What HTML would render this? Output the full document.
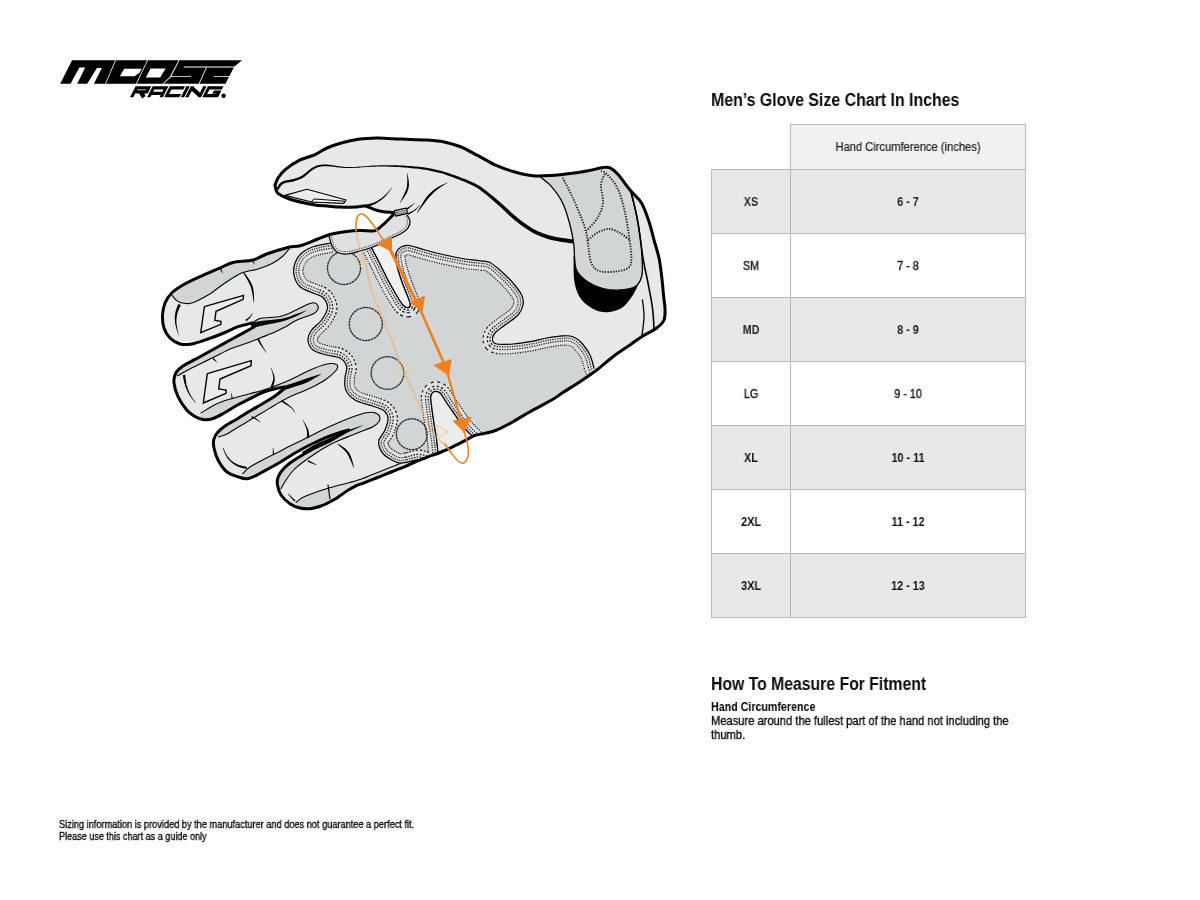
<!DOCTYPE html>
<html lang="en">
<head>
<meta charset="utf-8">
<title>Men's Glove Size Chart</title>
<style>
html,body{margin:0;padding:0;background:#fff;}
body{width:1200px;height:900px;position:relative;overflow:hidden;font-family:"Liberation Sans",sans-serif;color:#000;}
.t{position:absolute;white-space:nowrap;transform-origin:0 0;line-height:1;will-change:transform;}
.h{font-size:17.6px;font-weight:700;color:#0a0a0a;}
#title{left:711px;top:92.3px;transform:scaleX(.903);}
#how{left:711px;top:676.3px;transform:scaleX(.896);}
#hc{left:711px;top:700.5px;font-size:12.3px;font-weight:700;transform:scaleX(.868);}
#m1{left:711px;top:714.5px;font-size:12.3px;transform:scaleX(.907);-webkit-text-stroke:.3px #000;}
#m2{left:711px;top:728.5px;font-size:12.3px;transform:scaleX(.907);-webkit-text-stroke:.3px #000;}
#f1{left:59px;top:820.2px;font-size:10.4px;transform:scaleX(.886);-webkit-text-stroke:.3px #000;}
#f2{left:59px;top:832.2px;font-size:10.4px;transform:scaleX(.872);-webkit-text-stroke:.3px #000;}
#tbl{position:absolute;left:711px;top:124px;width:315px;height:494px;}
.cell{position:absolute;box-sizing:border-box;border:1px solid #b9b9b9;}
.cell span{will-change:transform;position:absolute;left:0;right:0;top:50%;text-align:center;font-size:12px;line-height:14px;margin-top:-7px;transform:scaleX(.9);}
.g{background:#e8e8e8;}
.w{background:#fff;}
.m span{font-weight:400 !important;-webkit-text-stroke:.4px #222;color:#222 !important;}
.s span{color:#262626 !important;}
.c1{left:0;width:80px;}
.c2{left:79px;width:236px;}
.c1 span,.c2 span{font-weight:700;color:#111;}
#hd{left:79px;top:0;width:236px;height:46px;background:#f1f1f1;}
#hd span{font-weight:400;color:#1a1a1a;transform:scaleX(.93);-webkit-text-stroke:.2px #222;}
#glove,#logo{position:absolute;left:0;top:0;}
</style>
</head>
<body>
<svg id="logo" width="1200" height="120" viewBox="0 0 1200 120">
<g fill="#000">
<path d="M72.1 60.2L242 60.2L234.6 66.6L233.4 68.2L225.5 83.8L60.2 83.8Z"/>
</g>
<g fill="#fff">
<path d="M70.4 84L77.1 84L85.2 67.5L79.4 67.5Z"/>
<path d="M87.1 84L93.8 84L101.9 68L96.9 68Z"/>
<path d="M115.3 60L116.1 60L105.8 84L105 84Z"/>
<path d="M124.2 68.7L141.7 68.7L139.6 72.6L134.6 76.3L119.9 76.3Z"/>
<path d="M147.3 60L148.1 60L136.6 84L135.8 84Z"/>
<path d="M150.6 68.5L165.6 68.5L160.2 77.5L145.8 77.5Z"/>
<path d="M178.8 60L179.7 60L170.9 77L163.6 84L162.5 84L170 76.6Z"/>
<path d="M184 66.6L235.2 66.6L234.6 67.4L183.6 67.4Z"/>
<path d="M171 76.2L191.2 76.2L190.8 77L170.6 77Z"/>
<path d="M206 67.4L206.9 67.4L199.4 84L198.5 84Z"/>
<path d="M214 76.2L230.2 76.2L229.8 77L213.6 77Z"/>
</g>
<g transform="translate(135.6 86.2) skewX(-27)" fill="none" stroke="#000" stroke-width="3.3" stroke-linejoin="miter" stroke-linecap="butt">
<path d="M1.65 11V1.65H14.1V5.7H1.65M8 5.7L13.9 11"/>
<path transform="translate(17.1 0)" d="M1.65 11V1.65H14.1V11M1.65 7.1H14.1"/>
<path transform="translate(34.2 0)" d="M15.2 1.65H1.65V9.35H15.2"/>
<path transform="translate(50.8 0)" d="M1.65 0V11"/>
<path transform="translate(55.2 0)" d="M1.65 11V0M1.65 1.6L14.1 9.4M14.1 0V11"/>
<path transform="translate(72.3 0)" d="M15.6 1.65H1.65V9.35H14.1V5.9H8.2"/>
</g>
<circle cx="223.6" cy="95.7" r="2.2" fill="#000"/>

</svg>
<svg id="glove" width="1200" height="900" viewBox="0 0 1200 900">
<g stroke-linejoin="round" stroke-linecap="round">
<path d="M275 185C275.6 183.8 276.5 180.1 278.3 177.5C280.1 174.9 282.5 172 285.8 169.2C289.1 166.4 293.4 163.2 298.3 160.8C303.2 158.4 310.2 156.7 315 154.6C319.8 152.5 322.3 150 327 148C331.7 146 337.5 144 343 142.5C348.5 141 354.3 139.8 360 139C365.7 138.2 371.5 138.1 377 138C382.5 137.9 387.5 138.4 393 138.7C398.5 138.9 404.3 139.3 410 139.5C415.7 139.7 421.5 139.6 427 140C432.5 140.4 437.5 140.6 443 141.7C448.5 142.8 454.2 144.2 460 146.5C465.8 148.8 471.9 152.5 478 155.7C484.1 158.9 490.5 163 496.7 165.7C502.9 168.4 508.9 170.3 515 172C521 173.7 526.9 175.2 533 175.8C539.1 176.4 545.5 175.9 551.7 175.5C557.9 175.1 564 174.4 570 173.6C576 172.8 582.5 171.7 588 170.7C593.5 169.7 599.3 168.1 603 167.6C606.7 167.1 607.5 166.7 610 167.8C612.5 168.9 614.3 170.2 617.7 174C621.1 177.8 626.5 185.7 630.5 190.5C634.5 195.3 638.4 197.8 641.5 203C644.6 208.2 646.9 215.5 649 221.7C651.1 227.9 652.3 233.9 654 240C655.7 246.1 657.7 251.9 659 258C660.3 264.1 661 270.5 661.7 276.7C662.5 282.9 663 289.7 663.5 295C664 300.3 664.9 304.1 665 308.3C665.1 312.5 665.4 316.7 664 320C662.6 323.3 660.4 325.2 656.7 328C653 330.8 646.2 333.9 641.7 336.7C637.2 339.5 634.8 341.7 630 345C625.2 348.3 618.5 352.5 613 356.7C607.5 360.9 602.2 365.8 596.7 370C591.2 374.2 585.6 377.9 580 381.7C574.4 385.4 567.7 389.4 563 392.5C558.3 395.6 557.2 396.8 551.7 400C546.2 403.2 536.5 408.1 530 411.7C523.5 415.3 518.5 418.6 513 421.7C507.4 424.8 501.4 428.1 496.7 430C492 431.9 488.7 432.4 485 433.3C481.3 434.2 477.6 434.4 474.3 435.6C471 436.8 468.8 438.8 465 440.7C461.2 442.6 455.9 445.3 451.7 447.3C447.5 449.3 443.3 451.1 440 452.5C436.7 453.9 434.5 454.4 431.7 455.4C428.9 456.4 426.1 457.6 423.3 458.7C420.5 459.8 417.8 460.8 415 462C412.2 463.2 409.5 464.6 406.7 465.8C403.9 467 401.1 468.1 398.3 469.2C395.5 470.3 392.8 471.4 390 472.5C387.2 473.6 384.5 474.7 381.7 475.8C378.9 476.9 376.1 478.1 373.3 479.2C370.5 480.3 367.8 481.5 365 482.5C362.2 483.5 358.1 484.9 356.7 485.4C355.3 486.2 351.1 488.3 348.3 490C345.5 491.7 342.7 494 340 495.8C337.3 497.6 335.2 499.1 332 500.8C328.8 502.5 324.7 504.7 321 506C317.3 507.3 313.5 508.4 310 508.7C306.5 509 303.3 508.8 300 508C296.7 507.2 293.2 505.9 290 503.7C286.8 501.5 283.1 498.1 281 495C278.9 491.9 278 487.9 277.5 485C277 482.1 277.2 480 278 477.5C278.8 475 280.5 472.4 282.5 470C284.5 467.6 286.7 465.5 290 463C293.3 460.5 298.3 457.5 302.5 455C306.7 452.5 310.4 450.3 315 448C319.6 445.7 327.5 442.2 330 441L348.7 430L340 432.5C337.9 433.2 331.7 435.3 327.5 437C323.3 438.7 319.2 440.6 315 442.5C310.8 444.4 306.7 446.4 302.5 448.7C298.3 450.9 294.2 453.5 290 456C285.8 458.5 281.7 461.3 277.5 463.7C273.3 466.1 268.8 468.6 265 470.6C261.2 472.7 257.9 474.6 255 476C252.1 477.4 250 478.4 247.5 478.7C245 478.9 243.5 478.7 240 477.5C236.5 476.3 230.4 474.6 226.7 471.7C223 468.8 220.1 463.9 218 460C215.9 456.1 214.7 451.3 214 448C213.3 444.7 213.1 442.6 213.7 440C214.3 437.4 215.6 434.8 217.5 432.5C219.4 430.2 221.7 428.3 225 426C228.3 423.7 233.3 421.2 237.5 418.7C241.7 416.2 245.8 413.5 250 411C254.2 408.5 258.3 406.2 262.5 403.7C266.7 401.2 271.2 398.6 275 396C278.8 393.4 283.3 389.3 285 388L285 387C283.3 387.3 278.8 387.8 275 388.7C271.2 389.6 266.7 390.8 262.5 392.5C258.3 394.2 254.2 396.6 250 398.7C245.8 400.8 241.7 402.7 237.5 405C233.3 407.3 229.2 410.2 225 412.5C220.8 414.8 216.2 417.5 212.5 418.7C208.8 419.9 205.9 419.9 203 419.5C200.1 419.1 197.7 418.1 195 416.5C192.3 414.9 189.5 413.3 186.7 410C183.9 406.7 180.1 401.2 178 396.7C175.9 392.2 174.4 386.9 174 383C173.6 379.1 174.3 375.8 175.8 373C177.3 370.2 179 368.7 183 366C187 363.3 194.4 359.8 200 356.7C205.6 353.6 211.2 350.5 216.7 347.5C222.2 344.5 226.8 341.9 233 338.5C239.2 335.1 250.5 328.9 254 327L252 323C249.7 323.6 242.5 325.1 238 326.7C233.5 328.3 230 330.4 225 332.5C220 334.6 213.6 337.1 208 339C202.4 340.9 196.4 343.2 191.7 344C187 344.8 183.6 345 180 344C176.4 343 172.7 340.7 170 338C167.3 335.3 165.2 331.8 164 328C162.8 324.2 162.3 319.2 162.5 315C162.7 310.8 163.5 306.7 165 303C166.5 299.3 168.7 296 171.7 293C174.7 290 178.3 287.7 183 285C187.7 282.3 193.8 279.5 200 276.7C206.2 273.9 214.5 270.4 220 268C225.5 265.6 227.5 263.8 233 262.5C238.5 261.2 247.4 261.4 253 260C258.6 258.6 260.9 256.1 266.7 254C272.5 251.9 282.4 248.9 288 247.5C293.6 246.1 295.2 247.1 300 245.8C304.8 244.5 311.7 241.4 316.7 239.5C321.7 237.6 325 235.8 330 234.5C335 233.2 341.7 232.2 346.7 231.5C351.7 230.8 355.6 230.6 360 230.5C364.4 230.4 370 231.2 373 231C376 230.8 376 230.3 378 229C380 227.7 382.5 225.3 385 223C387.5 220.7 391.7 216.3 393 215L393 212.5C391.2 212.3 385.3 212.1 382 211.5C378.7 210.9 375.8 209.9 373 209C370.2 208.1 368 206.3 365 206C362 205.7 359.2 206.8 355 207C350.8 207.2 344.7 207.2 340 207C335.3 206.8 331.2 206.3 327 206C322.8 205.7 319.1 205.6 315 205C310.9 204.4 306.7 203.5 302.5 202.5C298.3 201.5 293.5 200.3 290 199.2C286.5 198.1 283.9 197.1 281.7 195.8C279.5 194.6 277.8 193.5 276.7 191.7C275.6 189.9 275.3 186.1 275 185Z" fill="#e7e9e8"/>
<path d="M289 247.5C285.3 248.6 272.7 251.9 266.7 254C260.7 256.1 258.6 258.6 253 260C247.4 261.4 238.5 261.2 233 262.5C227.5 263.8 225.5 265.6 220 268C214.5 270.4 206.2 273.9 200 276.7C193.8 279.5 187.7 282.3 183 285C178.3 287.7 173.6 291.7 171.7 293L171.5 294.5C172.1 295.2 173.4 297.6 175 299C176.6 300.4 178.2 302.1 181 302.8C183.8 303.5 187.2 304.3 191.7 303C196.2 301.7 202.4 298.3 208 295C213.6 291.7 219.4 286.7 225 283C230.6 279.3 236.2 275.3 241.7 273C247.2 270.7 252.8 270.7 258 269C263.2 267.3 268.8 265.2 273 263C277.2 260.8 280.3 258.3 283 256C285.7 253.7 288 250.2 289 249Z" fill="#d2d5d5"/>
<path d="M252 323C253.3 322.2 257 319.4 260 318.5C263 317.6 266.7 317.8 270 317.5C273.3 317.2 276.7 317.2 280 316.5C283.3 315.8 286.7 314.4 290 313C293.3 311.6 296.7 309.6 300 308C303.3 306.4 307.5 304.3 310 303.5C312.5 302.7 313.7 302.6 315 303C316.3 303.4 317.6 304.8 318 306C318.4 307.2 318.2 308.8 317.5 310C316.8 311.2 316.1 312.3 314 313.5C311.9 314.7 308.2 315.8 305 317C301.8 318.2 298.3 319.3 295 321C291.7 322.7 288.3 325.2 285 327C281.7 328.8 279.2 330.2 275 332C270.8 333.8 264.2 336.3 260 338C255.8 339.7 253.3 340.8 250 342C246.7 343.2 243.3 344.3 240 345.5C236.7 346.7 233.3 347.6 230 349C226.7 350.4 223.7 352.2 220 354C216.3 355.8 212.7 357.7 208 360C203.3 362.3 196.8 365.4 191.7 368C186.6 370.6 179.9 374.5 177.5 375.8C177.2 375.3 174.9 374.6 175.8 373C176.7 371.4 179 368.7 183 366C187 363.3 194.4 359.8 200 356.7C205.6 353.6 211.2 350.5 216.7 347.5C222.2 344.5 226.8 341.9 233 338.5C239.2 335.1 250.5 328.9 254 327Z" fill="#d2d5d5"/>
<path d="M201 413C202.9 411.8 208.5 408.1 212.5 406C216.5 403.9 220.8 402.1 225 400.6C229.2 399.1 233.3 398.1 237.5 397C241.7 395.9 245.9 394.8 250 393.7C254.1 392.6 257.8 391.8 262 390.5C266.2 389.2 270.8 387.6 275 386C279.2 384.4 283.3 382.8 287.5 381C291.7 379.2 295.8 377 300 375C304.2 373 308.3 370.8 312.5 369C316.7 367.2 321.7 365.4 325 364.5C328.3 363.6 330.4 363.3 332.5 363.5C334.6 363.7 337 364.4 337.5 365.6C338 366.9 337.7 368.6 335.6 371C333.5 373.4 328.9 377.3 325 380C321.1 382.7 316.7 384.9 312.5 387C308.3 389.1 304.2 390.7 300 392.5C295.8 394.3 291.7 395.9 287.5 398C283.3 400.1 279.2 402.6 275 405C270.8 407.4 266.7 410 262.5 412.5C258.3 415 254.2 417.5 250 420C245.8 422.5 241.2 425.2 237.5 427.5C233.8 429.8 230.6 432.1 227.5 433.7C224.4 435.3 220.2 436.4 218.7 437C218.5 436.2 216.4 434.3 217.5 432.5C218.6 430.7 221.7 428.3 225 426C228.3 423.7 233.3 421.2 237.5 418.7C241.7 416.2 245.8 413.5 250 411C254.2 408.5 258.3 406.2 262.5 403.7C266.7 401.2 271.2 398.6 275 396C278.8 393.4 283.3 389.3 285 388C283.3 387.3 278.8 387.8 275 388.7C271.2 389.6 266.7 390.8 262.5 392.5C258.3 394.2 254.2 396.6 250 398.7C245.8 400.8 241.7 402.7 237.5 405C233.3 407.3 229.2 410.2 225 412.5C220.8 414.8 216.2 417.5 212.5 418.7C208.8 419.9 204.9 420.4 203 419.5C201.1 418.6 201.3 414.1 201 413Z" fill="#d2d5d5"/>
<path d="M242.5 473.7C243.8 472.6 246.2 469.5 250 467C253.8 464.5 260.4 461.1 265 458.7C269.6 456.3 273.3 454.6 277.5 452.5C281.7 450.4 285.8 448.1 290 446C294.2 443.9 298.3 442.1 302.5 440C306.7 437.9 310.8 435.8 315 433.7C319.2 431.6 323.3 429.4 327.5 427.5C331.7 425.6 335.8 423.8 340 422C344.2 420.2 348.3 418.5 352.5 417C356.7 415.5 361.5 413.8 365 413C368.5 412.2 371.3 412 373.7 412.5C376.1 413 378.6 414.4 379.4 416C380.2 417.6 379.8 420.2 378.7 422C377.6 423.8 374.8 425.7 372.5 427C370.2 428.3 368.3 428.7 365 430C361.7 431.3 356.7 433.3 352.5 435C348.3 436.7 344.2 438.2 340 440C335.8 441.8 331.7 443.7 327.5 446C323.3 448.3 319.2 450.9 315 453.7C310.8 456.4 306.1 459.8 302.5 462.5C298.9 465.2 296.4 467.1 293.7 470C290.9 472.9 288.1 476.9 286 480C283.9 483.1 281.8 487.2 281 488.7C280.4 488.1 278 486.9 277.5 485C277 483.1 277.2 480 278 477.5C278.8 475 280.5 472.4 282.5 470C284.5 467.6 286.7 465.5 290 463C293.3 460.5 298.3 457.5 302.5 455C306.7 452.5 310.4 450.3 315 448C319.6 445.7 324.4 444 330 441C335.6 438 345.6 431.8 348.7 430C337.9 433.2 331.7 435.3 327.5 437C323.3 438.7 319.2 440.6 315 442.5C310.8 444.4 306.7 446.4 302.5 448.7C298.3 450.9 294.2 453.5 290 456C285.8 458.5 281.7 461.3 277.5 463.7C273.3 466.1 268.8 468.6 265 470.6C261.2 472.7 257.9 474.6 255 476C252.1 477.4 249.6 479.1 247.5 478.7C245.4 478.3 243.3 474.5 242.5 473.7Z" fill="#d2d5d5"/>
<path d="M296 502.5C297.1 501.7 299.3 499.2 302.5 497.5C305.7 495.8 310.8 494 315 492.5C319.2 491 323.3 489.8 327.5 488.5C331.7 487.2 335.1 486.3 340 485C344.9 483.7 351.1 482.4 356.7 480.6C362.2 478.8 367.8 476.4 373.3 474.2C378.9 472 385.8 469.2 390 467.5C394.2 465.8 395.5 465.3 398.3 464.2C401.1 463.1 403.4 461.8 406.7 460.9C410 460 416.4 459.2 418.3 458.9C416.4 461.4 411.4 463.8 406.7 465.8C402 467.8 395.6 470.3 390 472.5C384.4 474.7 378.9 477.1 373.3 479.2C367.8 481.3 360.9 483.6 356.7 485.4C352.5 487.2 351.1 488.3 348.3 490C345.5 491.7 342.7 494 340 495.8C337.3 497.6 335.2 499.1 332 500.8C328.8 502.5 324.7 504.7 321 506C317.3 507.3 313.5 508.4 310 508.7C306.5 509 302.3 509 300 508C297.7 507 296.7 503.4 296 502.5Z" fill="#dcddde"/>
<path d="M296 502.5C297.1 501.7 299.3 499.2 302.5 497.5C305.7 495.8 310.8 494.1 315 492.5C319.2 490.9 325.8 488.6 328 487.8L330 500C328.5 501 324.3 504.6 321 506C317.7 507.4 313.5 508.4 310 508.7C306.5 509 302.3 509 300 508C297.7 507 296.7 503.4 296 502.5Z" fill="#d2d5d5"/>
<path d="M171.5 294.5C172.1 295.2 173.4 297.6 175 299C176.6 300.4 178.2 302.1 181 302.8C183.8 303.5 187.2 304.3 191.7 303C196.2 301.7 202.4 298.3 208 295C213.6 291.7 219.4 286.7 225 283C230.6 279.3 236.2 275.3 241.7 273C247.2 270.7 252.8 270.7 258 269C263.2 267.3 268.8 265.2 273 263C277.2 260.8 280.3 258.3 283 256C285.7 253.7 288 250.2 289 249" fill="none" stroke="#000" stroke-width="1.1"/>
<path d="M252 323C253.3 322.2 257 319.4 260 318.5C263 317.6 266.7 317.8 270 317.5C273.3 317.2 276.7 317.2 280 316.5C283.3 315.8 286.7 314.4 290 313C293.3 311.6 296.7 309.6 300 308C303.3 306.4 307.5 304.3 310 303.5C312.5 302.7 313.7 302.6 315 303C316.3 303.4 317.6 304.8 318 306C318.4 307.2 318.2 308.8 317.5 310C316.8 311.2 316.1 312.3 314 313.5C311.9 314.7 308.2 315.8 305 317C301.8 318.2 298.3 319.3 295 321C291.7 322.7 288.3 325.2 285 327C281.7 328.8 279.2 330.2 275 332C270.8 333.8 264.2 336.3 260 338C255.8 339.7 253.3 340.8 250 342C246.7 343.2 243.3 344.3 240 345.5C236.7 346.7 233.3 347.6 230 349C226.7 350.4 223.7 352.2 220 354C216.3 355.8 212.7 357.7 208 360C203.3 362.3 196.8 365.4 191.7 368C186.6 370.6 179.9 374.5 177.5 375.8" fill="none" stroke="#000" stroke-width="1.1"/>
<path d="M201 413C202.9 411.8 208.5 408.1 212.5 406C216.5 403.9 220.8 402.1 225 400.6C229.2 399.1 233.3 398.1 237.5 397C241.7 395.9 245.9 394.8 250 393.7C254.1 392.6 257.8 391.8 262 390.5C266.2 389.2 270.8 387.6 275 386C279.2 384.4 283.3 382.8 287.5 381C291.7 379.2 295.8 377 300 375C304.2 373 308.3 370.8 312.5 369C316.7 367.2 321.7 365.4 325 364.5C328.3 363.6 330.4 363.3 332.5 363.5C334.6 363.7 337 364.4 337.5 365.6C338 366.9 337.7 368.6 335.6 371C333.5 373.4 328.9 377.3 325 380C321.1 382.7 316.7 384.9 312.5 387C308.3 389.1 304.2 390.7 300 392.5C295.8 394.3 291.7 395.9 287.5 398C283.3 400.1 279.2 402.6 275 405C270.8 407.4 266.7 410 262.5 412.5C258.3 415 254.2 417.5 250 420C245.8 422.5 241.2 425.2 237.5 427.5C233.8 429.8 230.6 432.1 227.5 433.7C224.4 435.3 220.2 436.4 218.7 437" fill="none" stroke="#000" stroke-width="1.1"/>
<path d="M242.5 473.7C243.8 472.6 246.2 469.5 250 467C253.8 464.5 260.4 461.1 265 458.7C269.6 456.3 273.3 454.6 277.5 452.5C281.7 450.4 285.8 448.1 290 446C294.2 443.9 298.3 442.1 302.5 440C306.7 437.9 310.8 435.8 315 433.7C319.2 431.6 323.3 429.4 327.5 427.5C331.7 425.6 335.8 423.8 340 422C344.2 420.2 348.3 418.5 352.5 417C356.7 415.5 361.5 413.8 365 413C368.5 412.2 371.3 412 373.7 412.5C376.1 413 378.6 414.4 379.4 416C380.2 417.6 379.8 420.2 378.7 422C377.6 423.8 374.8 425.7 372.5 427C370.2 428.3 368.3 428.7 365 430C361.7 431.3 356.7 433.3 352.5 435C348.3 436.7 344.2 438.2 340 440C335.8 441.8 331.7 443.7 327.5 446C323.3 448.3 319.2 450.9 315 453.7C310.8 456.4 306.1 459.8 302.5 462.5C298.9 465.2 296.4 467.1 293.7 470C290.9 472.9 288.1 476.9 286 480C283.9 483.1 281.8 487.2 281 488.7" fill="none" stroke="#000" stroke-width="1.1"/>
<path d="M296 502.5C297.1 501.7 299.3 499.2 302.5 497.5C305.7 495.8 310.8 494 315 492.5C319.2 491 323.3 489.8 327.5 488.5C331.7 487.2 335.1 486.3 340 485C344.9 483.7 351.1 482.4 356.7 480.6C362.2 478.8 367.8 476.4 373.3 474.2C378.9 472 385.8 469.2 390 467.5C394.2 465.8 395.5 465.3 398.3 464.2C401.1 463.1 403.4 461.8 406.7 460.9C410 460 416.4 459.2 418.3 458.9" fill="none" stroke="#000" stroke-width="1.1"/>
<clipPath id="padclip"><path d="M331 243C328 243.6 317.9 245 313 246.7C308.1 248.4 304.7 250.3 301.7 253C298.7 255.7 296.3 259.3 295 263C293.7 266.7 293.2 271.1 294 275C294.8 278.9 296.8 283.7 300 286.7C303.2 289.7 309.2 291.2 313 293C316.8 294.8 320.6 295 323 297.5C325.4 300 327.7 304.2 327.5 308C327.3 311.8 324.3 316.3 321.7 320C319.1 323.7 314 326.7 311.7 330C309.4 333.3 307.8 336.7 308 340C308.2 343.3 309.9 347.5 313 350C316.1 352.5 322.2 353.7 326.7 355C331.2 356.3 336.7 356.1 340 358C343.3 359.9 345.9 363.4 346.7 366.7C347.5 370 345.1 374.1 345 378C344.9 381.9 344.1 386.3 345.8 390C347.5 393.7 350.7 397.4 355 400C359.3 402.6 367 404.1 371.7 405.8C376.4 407.5 380.3 408 383 410C385.7 412 387.7 414.7 388 418C388.3 421.3 386.5 426.3 385 430C383.5 433.7 379.9 437.2 379 440C378.1 442.8 378.7 444.7 379.4 447C380.1 449.3 381.5 452 383.3 454C385.1 456 387.5 457.5 390 459C392.5 460.5 395.6 462.2 398.3 462.8C401.1 463.4 403.2 462.9 406.5 462.3C409.8 461.8 416.3 460 418.3 459.5C419.1 459.4 421.1 459.4 423.3 458.7C425.5 458 429.2 456.3 431.7 455.4C434.1 454.5 436.9 453.6 438 453.3C437.8 451.1 437.4 445.1 436.7 440C436 434.9 434.8 428.6 434 423C433.2 417.4 432.2 411.1 431.7 406.7C431.2 402.3 430.4 399.2 430.8 396.7C431.2 394.2 432.5 392.3 434 391.7C435.5 391.1 437.9 391.1 440 393C442.1 394.9 444.2 399.3 446.7 403C449.2 406.7 452.3 411.1 455 415C457.7 418.9 460.2 423.2 463 426.7C465.8 430.2 470.5 434.4 472 436C472.4 435.9 472.1 436.1 474.3 435.6C476.5 435.2 481.3 434.2 485 433.3C488.7 432.4 492 431.9 496.7 430C501.4 428.1 507.4 424.8 513 421.7C518.5 418.6 523.5 415.3 530 411.7C536.5 408.1 546.2 403.2 551.7 400C557.2 396.8 558.3 395.6 563 392.5C567.7 389.4 574.8 385.8 580 381.7C585.2 377.6 591.7 370.3 594 368C593.3 365.8 592 359.2 590 355C588 350.8 584.5 346.1 581.7 343C578.9 339.9 576.1 337.9 573 336.7C569.9 335.5 567.4 335.6 563 335.8C558.6 336 552.2 337 546.7 338C541.2 339 535.6 340.7 530 341.7C524.4 342.7 518.5 343.6 513 344C507.4 344.4 500.1 344.7 496.7 344C493.3 343.3 492.8 341.8 492.5 340C492.2 338.2 492.9 335.5 495 333C497.1 330.5 501.2 328 505 325C508.8 322 515 318.3 518 315C521 311.7 522.4 308.3 523 305C523.6 301.7 523.4 298.7 521.7 295C520 291.3 516.3 286.9 513 283C509.7 279.1 505.5 275.1 501.7 271.7C497.9 268.3 493.6 264.3 490 262.5C486.4 260.7 484.2 261.4 480 260.8C475.8 260.2 470.8 260 465 259C459.2 258 451.7 256.5 445 255C438.3 253.5 431 251.6 425 250C419 248.4 413 246 409 245.5C405 245 403.2 245.8 401 247C398.8 248.2 396.8 250.8 396 253C395.2 255.2 395.7 257.2 396 260C396.3 262.8 396.8 265.8 398 270C399.2 274.2 401.2 280 403 285C404.8 290 407.8 296.5 409 300C410.2 303.5 410.3 304.8 410 306C409.7 307.2 408.2 307.7 407 307.5C405.8 307.3 404.7 306.9 403 305C401.3 303.1 399.5 300.2 397 296C394.5 291.8 391.2 286 388 280C384.8 274 380.7 265.2 378 260C375.3 254.8 373 250.4 372 248.5L360 246L331 243Z"/></clipPath>
<path d="M331 243C328 243.6 317.9 245 313 246.7C308.1 248.4 304.7 250.3 301.7 253C298.7 255.7 296.3 259.3 295 263C293.7 266.7 293.2 271.1 294 275C294.8 278.9 296.8 283.7 300 286.7C303.2 289.7 309.2 291.2 313 293C316.8 294.8 320.6 295 323 297.5C325.4 300 327.7 304.2 327.5 308C327.3 311.8 324.3 316.3 321.7 320C319.1 323.7 314 326.7 311.7 330C309.4 333.3 307.8 336.7 308 340C308.2 343.3 309.9 347.5 313 350C316.1 352.5 322.2 353.7 326.7 355C331.2 356.3 336.7 356.1 340 358C343.3 359.9 345.9 363.4 346.7 366.7C347.5 370 345.1 374.1 345 378C344.9 381.9 344.1 386.3 345.8 390C347.5 393.7 350.7 397.4 355 400C359.3 402.6 367 404.1 371.7 405.8C376.4 407.5 380.3 408 383 410C385.7 412 387.7 414.7 388 418C388.3 421.3 386.5 426.3 385 430C383.5 433.7 379.9 437.2 379 440C378.1 442.8 378.7 444.7 379.4 447C380.1 449.3 381.5 452 383.3 454C385.1 456 387.5 457.5 390 459C392.5 460.5 395.6 462.2 398.3 462.8C401.1 463.4 403.2 462.9 406.5 462.3C409.8 461.8 416.3 460 418.3 459.5C419.1 459.4 421.1 459.4 423.3 458.7C425.5 458 429.2 456.3 431.7 455.4C434.1 454.5 436.9 453.6 438 453.3C437.8 451.1 437.4 445.1 436.7 440C436 434.9 434.8 428.6 434 423C433.2 417.4 432.2 411.1 431.7 406.7C431.2 402.3 430.4 399.2 430.8 396.7C431.2 394.2 432.5 392.3 434 391.7C435.5 391.1 437.9 391.1 440 393C442.1 394.9 444.2 399.3 446.7 403C449.2 406.7 452.3 411.1 455 415C457.7 418.9 460.2 423.2 463 426.7C465.8 430.2 470.5 434.4 472 436C472.4 435.9 472.1 436.1 474.3 435.6C476.5 435.2 481.3 434.2 485 433.3C488.7 432.4 492 431.9 496.7 430C501.4 428.1 507.4 424.8 513 421.7C518.5 418.6 523.5 415.3 530 411.7C536.5 408.1 546.2 403.2 551.7 400C557.2 396.8 558.3 395.6 563 392.5C567.7 389.4 574.8 385.8 580 381.7C585.2 377.6 591.7 370.3 594 368C593.3 365.8 592 359.2 590 355C588 350.8 584.5 346.1 581.7 343C578.9 339.9 576.1 337.9 573 336.7C569.9 335.5 567.4 335.6 563 335.8C558.6 336 552.2 337 546.7 338C541.2 339 535.6 340.7 530 341.7C524.4 342.7 518.5 343.6 513 344C507.4 344.4 500.1 344.7 496.7 344C493.3 343.3 492.8 341.8 492.5 340C492.2 338.2 492.9 335.5 495 333C497.1 330.5 501.2 328 505 325C508.8 322 515 318.3 518 315C521 311.7 522.4 308.3 523 305C523.6 301.7 523.4 298.7 521.7 295C520 291.3 516.3 286.9 513 283C509.7 279.1 505.5 275.1 501.7 271.7C497.9 268.3 493.6 264.3 490 262.5C486.4 260.7 484.2 261.4 480 260.8C475.8 260.2 470.8 260 465 259C459.2 258 451.7 256.5 445 255C438.3 253.5 431 251.6 425 250C419 248.4 413 246 409 245.5C405 245 403.2 245.8 401 247C398.8 248.2 396.8 250.8 396 253C395.2 255.2 395.7 257.2 396 260C396.3 262.8 396.8 265.8 398 270C399.2 274.2 401.2 280 403 285C404.8 290 407.8 296.5 409 300C410.2 303.5 410.3 304.8 410 306C409.7 307.2 408.2 307.7 407 307.5C405.8 307.3 404.7 306.9 403 305C401.3 303.1 399.5 300.2 397 296C394.5 291.8 391.2 286 388 280C384.8 274 380.7 265.2 378 260C375.3 254.8 373 250.4 372 248.5L360 246L331 243Z" fill="#d2d5d5"/>
<g clip-path="url(#padclip)" stroke-linecap="butt">
<path d="M331 243C328 243.6 317.9 245 313 246.7C308.1 248.4 304.7 250.3 301.7 253C298.7 255.7 296.3 259.3 295 263C293.7 266.7 293.2 271.1 294 275C294.8 278.9 296.8 283.7 300 286.7C303.2 289.7 309.2 291.2 313 293C316.8 294.8 320.6 295 323 297.5C325.4 300 327.7 304.2 327.5 308C327.3 311.8 324.3 316.3 321.7 320C319.1 323.7 314 326.7 311.7 330C309.4 333.3 307.8 336.7 308 340C308.2 343.3 309.9 347.5 313 350C316.1 352.5 322.2 353.7 326.7 355C331.2 356.3 336.7 356.1 340 358C343.3 359.9 345.9 363.4 346.7 366.7C347.5 370 345.1 374.1 345 378C344.9 381.9 344.1 386.3 345.8 390C347.5 393.7 350.7 397.4 355 400C359.3 402.6 367 404.1 371.7 405.8C376.4 407.5 380.3 408 383 410C385.7 412 387.7 414.7 388 418C388.3 421.3 386.5 426.3 385 430C383.5 433.7 379.9 437.2 379 440C378.1 442.8 378.7 444.7 379.4 447C380.1 449.3 381.5 452 383.3 454C385.1 456 387.5 457.5 390 459C392.5 460.5 395.6 462.2 398.3 462.8C401.1 463.4 403.2 462.9 406.5 462.3C409.8 461.8 414.7 459.6 418.3 459.5C421.9 459.4 426.4 461.6 428 462" fill="none" stroke="#e0e2e2" stroke-width="20.6"/>
<path d="M439 462C438.8 460.6 438.4 457 438 453.3C437.6 449.6 437.4 445.1 436.7 440C436 434.9 434.8 428.6 434 423C433.2 417.4 432.2 411.1 431.7 406.7C431.2 402.3 430.4 399.2 430.8 396.7C431.2 394.2 432.5 392.3 434 391.7C435.5 391.1 437.9 391.1 440 393C442.1 394.9 444.2 399.3 446.7 403C449.2 406.7 452.3 411.1 455 415C457.7 418.9 460.2 423.2 463 426.7C465.8 430.2 469.3 433.1 472 436C474.7 438.9 477.8 442.7 479 444" fill="none" stroke="#e0e2e2" stroke-width="20.6"/>
<path d="M600 382C599 379.7 595.7 372.5 594 368C592.3 363.5 592 359.2 590 355C588 350.8 584.5 346.1 581.7 343C578.9 339.9 576.1 337.9 573 336.7C569.9 335.5 567.4 335.6 563 335.8C558.6 336 552.2 337 546.7 338C541.2 339 535.6 340.7 530 341.7C524.4 342.7 518.5 343.6 513 344C507.4 344.4 500.1 344.7 496.7 344C493.3 343.3 492.8 341.8 492.5 340C492.2 338.2 492.9 335.5 495 333C497.1 330.5 501.2 328 505 325C508.8 322 515 318.3 518 315C521 311.7 522.4 308.3 523 305C523.6 301.7 523.4 298.7 521.7 295C520 291.3 516.3 286.9 513 283C509.7 279.1 505.5 275.1 501.7 271.7C497.9 268.3 493.6 264.3 490 262.5C486.4 260.7 484.2 261.4 480 260.8C475.8 260.2 470.8 260 465 259C459.2 258 451.7 256.5 445 255C438.3 253.5 431 251.6 425 250C419 248.4 413 246 409 245.5C405 245 403.2 245.8 401 247C398.8 248.2 396.8 250.8 396 253C395.2 255.2 395.7 257.2 396 260C396.3 262.8 396.8 265.8 398 270C399.2 274.2 401.2 280 403 285C404.8 290 407.8 296.5 409 300C410.2 303.5 410.3 304.8 410 306C409.7 307.2 408.2 307.7 407 307.5C405.8 307.3 404.7 306.9 403 305C401.3 303.1 399.5 300.2 397 296C394.5 291.8 391.2 286 388 280C384.8 274 380.7 265.2 378 260C375.3 254.8 373 250.4 372 248.5" fill="none" stroke="#e0e2e2" stroke-width="20.6"/>
<path d="M331 243C328 243.6 317.9 245 313 246.7C308.1 248.4 304.7 250.3 301.7 253C298.7 255.7 296.3 259.3 295 263C293.7 266.7 293.2 271.1 294 275C294.8 278.9 296.8 283.7 300 286.7C303.2 289.7 309.2 291.2 313 293C316.8 294.8 320.6 295 323 297.5C325.4 300 327.7 304.2 327.5 308C327.3 311.8 324.3 316.3 321.7 320C319.1 323.7 314 326.7 311.7 330C309.4 333.3 307.8 336.7 308 340C308.2 343.3 309.9 347.5 313 350C316.1 352.5 322.2 353.7 326.7 355C331.2 356.3 336.7 356.1 340 358C343.3 359.9 345.9 363.4 346.7 366.7C347.5 370 345.1 374.1 345 378C344.9 381.9 344.1 386.3 345.8 390C347.5 393.7 350.7 397.4 355 400C359.3 402.6 367 404.1 371.7 405.8C376.4 407.5 380.3 408 383 410C385.7 412 387.7 414.7 388 418C388.3 421.3 386.5 426.3 385 430C383.5 433.7 379.9 437.2 379 440C378.1 442.8 378.7 444.7 379.4 447C380.1 449.3 381.5 452 383.3 454C385.1 456 387.5 457.5 390 459C392.5 460.5 395.6 462.2 398.3 462.8C401.1 463.4 403.2 462.9 406.5 462.3C409.8 461.8 414.7 459.6 418.3 459.5C421.9 459.4 426.4 461.6 428 462" fill="none" stroke="#1c1e20" stroke-width="20.05" stroke-dasharray="1.25 1.15"/>
<path d="M439 462C438.8 460.6 438.4 457 438 453.3C437.6 449.6 437.4 445.1 436.7 440C436 434.9 434.8 428.6 434 423C433.2 417.4 432.2 411.1 431.7 406.7C431.2 402.3 430.4 399.2 430.8 396.7C431.2 394.2 432.5 392.3 434 391.7C435.5 391.1 437.9 391.1 440 393C442.1 394.9 444.2 399.3 446.7 403C449.2 406.7 452.3 411.1 455 415C457.7 418.9 460.2 423.2 463 426.7C465.8 430.2 469.3 433.1 472 436C474.7 438.9 477.8 442.7 479 444" fill="none" stroke="#1c1e20" stroke-width="20.05" stroke-dasharray="1.25 1.15"/>
<path d="M600 382C599 379.7 595.7 372.5 594 368C592.3 363.5 592 359.2 590 355C588 350.8 584.5 346.1 581.7 343C578.9 339.9 576.1 337.9 573 336.7C569.9 335.5 567.4 335.6 563 335.8C558.6 336 552.2 337 546.7 338C541.2 339 535.6 340.7 530 341.7C524.4 342.7 518.5 343.6 513 344C507.4 344.4 500.1 344.7 496.7 344C493.3 343.3 492.8 341.8 492.5 340C492.2 338.2 492.9 335.5 495 333C497.1 330.5 501.2 328 505 325C508.8 322 515 318.3 518 315C521 311.7 522.4 308.3 523 305C523.6 301.7 523.4 298.7 521.7 295C520 291.3 516.3 286.9 513 283C509.7 279.1 505.5 275.1 501.7 271.7C497.9 268.3 493.6 264.3 490 262.5C486.4 260.7 484.2 261.4 480 260.8C475.8 260.2 470.8 260 465 259C459.2 258 451.7 256.5 445 255C438.3 253.5 431 251.6 425 250C419 248.4 413 246 409 245.5C405 245 403.2 245.8 401 247C398.8 248.2 396.8 250.8 396 253C395.2 255.2 395.7 257.2 396 260C396.3 262.8 396.8 265.8 398 270C399.2 274.2 401.2 280 403 285C404.8 290 407.8 296.5 409 300C410.2 303.5 410.3 304.8 410 306C409.7 307.2 408.2 307.7 407 307.5C405.8 307.3 404.7 306.9 403 305C401.3 303.1 399.5 300.2 397 296C394.5 291.8 391.2 286 388 280C384.8 274 380.7 265.2 378 260C375.3 254.8 373 250.4 372 248.5" fill="none" stroke="#1c1e20" stroke-width="20.05" stroke-dasharray="1.25 1.15"/>
<path d="M331 243C328 243.6 317.9 245 313 246.7C308.1 248.4 304.7 250.3 301.7 253C298.7 255.7 296.3 259.3 295 263C293.7 266.7 293.2 271.1 294 275C294.8 278.9 296.8 283.7 300 286.7C303.2 289.7 309.2 291.2 313 293C316.8 294.8 320.6 295 323 297.5C325.4 300 327.7 304.2 327.5 308C327.3 311.8 324.3 316.3 321.7 320C319.1 323.7 314 326.7 311.7 330C309.4 333.3 307.8 336.7 308 340C308.2 343.3 309.9 347.5 313 350C316.1 352.5 322.2 353.7 326.7 355C331.2 356.3 336.7 356.1 340 358C343.3 359.9 345.9 363.4 346.7 366.7C347.5 370 345.1 374.1 345 378C344.9 381.9 344.1 386.3 345.8 390C347.5 393.7 350.7 397.4 355 400C359.3 402.6 367 404.1 371.7 405.8C376.4 407.5 380.3 408 383 410C385.7 412 387.7 414.7 388 418C388.3 421.3 386.5 426.3 385 430C383.5 433.7 379.9 437.2 379 440C378.1 442.8 378.7 444.7 379.4 447C380.1 449.3 381.5 452 383.3 454C385.1 456 387.5 457.5 390 459C392.5 460.5 395.6 462.2 398.3 462.8C401.1 463.4 403.2 462.9 406.5 462.3C409.8 461.8 414.7 459.6 418.3 459.5C421.9 459.4 426.4 461.6 428 462" fill="none" stroke="#e0e2e2" stroke-width="17.55"/>
<path d="M439 462C438.8 460.6 438.4 457 438 453.3C437.6 449.6 437.4 445.1 436.7 440C436 434.9 434.8 428.6 434 423C433.2 417.4 432.2 411.1 431.7 406.7C431.2 402.3 430.4 399.2 430.8 396.7C431.2 394.2 432.5 392.3 434 391.7C435.5 391.1 437.9 391.1 440 393C442.1 394.9 444.2 399.3 446.7 403C449.2 406.7 452.3 411.1 455 415C457.7 418.9 460.2 423.2 463 426.7C465.8 430.2 469.3 433.1 472 436C474.7 438.9 477.8 442.7 479 444" fill="none" stroke="#e0e2e2" stroke-width="17.55"/>
<path d="M600 382C599 379.7 595.7 372.5 594 368C592.3 363.5 592 359.2 590 355C588 350.8 584.5 346.1 581.7 343C578.9 339.9 576.1 337.9 573 336.7C569.9 335.5 567.4 335.6 563 335.8C558.6 336 552.2 337 546.7 338C541.2 339 535.6 340.7 530 341.7C524.4 342.7 518.5 343.6 513 344C507.4 344.4 500.1 344.7 496.7 344C493.3 343.3 492.8 341.8 492.5 340C492.2 338.2 492.9 335.5 495 333C497.1 330.5 501.2 328 505 325C508.8 322 515 318.3 518 315C521 311.7 522.4 308.3 523 305C523.6 301.7 523.4 298.7 521.7 295C520 291.3 516.3 286.9 513 283C509.7 279.1 505.5 275.1 501.7 271.7C497.9 268.3 493.6 264.3 490 262.5C486.4 260.7 484.2 261.4 480 260.8C475.8 260.2 470.8 260 465 259C459.2 258 451.7 256.5 445 255C438.3 253.5 431 251.6 425 250C419 248.4 413 246 409 245.5C405 245 403.2 245.8 401 247C398.8 248.2 396.8 250.8 396 253C395.2 255.2 395.7 257.2 396 260C396.3 262.8 396.8 265.8 398 270C399.2 274.2 401.2 280 403 285C404.8 290 407.8 296.5 409 300C410.2 303.5 410.3 304.8 410 306C409.7 307.2 408.2 307.7 407 307.5C405.8 307.3 404.7 306.9 403 305C401.3 303.1 399.5 300.2 397 296C394.5 291.8 391.2 286 388 280C384.8 274 380.7 265.2 378 260C375.3 254.8 373 250.4 372 248.5" fill="none" stroke="#e0e2e2" stroke-width="17.55"/>
<path d="M331 243C328 243.6 317.9 245 313 246.7C308.1 248.4 304.7 250.3 301.7 253C298.7 255.7 296.3 259.3 295 263C293.7 266.7 293.2 271.1 294 275C294.8 278.9 296.8 283.7 300 286.7C303.2 289.7 309.2 291.2 313 293C316.8 294.8 320.6 295 323 297.5C325.4 300 327.7 304.2 327.5 308C327.3 311.8 324.3 316.3 321.7 320C319.1 323.7 314 326.7 311.7 330C309.4 333.3 307.8 336.7 308 340C308.2 343.3 309.9 347.5 313 350C316.1 352.5 322.2 353.7 326.7 355C331.2 356.3 336.7 356.1 340 358C343.3 359.9 345.9 363.4 346.7 366.7C347.5 370 345.1 374.1 345 378C344.9 381.9 344.1 386.3 345.8 390C347.5 393.7 350.7 397.4 355 400C359.3 402.6 367 404.1 371.7 405.8C376.4 407.5 380.3 408 383 410C385.7 412 387.7 414.7 388 418C388.3 421.3 386.5 426.3 385 430C383.5 433.7 379.9 437.2 379 440C378.1 442.8 378.7 444.7 379.4 447C380.1 449.3 381.5 452 383.3 454C385.1 456 387.5 457.5 390 459C392.5 460.5 395.6 462.2 398.3 462.8C401.1 463.4 403.2 462.9 406.5 462.3C409.8 461.8 414.7 459.6 418.3 459.5C421.9 459.4 426.4 461.6 428 462" fill="none" stroke="#1c1e20" stroke-width="11.65" stroke-dasharray="1.25 1.15"/>
<path d="M439 462C438.8 460.6 438.4 457 438 453.3C437.6 449.6 437.4 445.1 436.7 440C436 434.9 434.8 428.6 434 423C433.2 417.4 432.2 411.1 431.7 406.7C431.2 402.3 430.4 399.2 430.8 396.7C431.2 394.2 432.5 392.3 434 391.7C435.5 391.1 437.9 391.1 440 393C442.1 394.9 444.2 399.3 446.7 403C449.2 406.7 452.3 411.1 455 415C457.7 418.9 460.2 423.2 463 426.7C465.8 430.2 469.3 433.1 472 436C474.7 438.9 477.8 442.7 479 444" fill="none" stroke="#1c1e20" stroke-width="11.65" stroke-dasharray="1.25 1.15"/>
<path d="M600 382C599 379.7 595.7 372.5 594 368C592.3 363.5 592 359.2 590 355C588 350.8 584.5 346.1 581.7 343C578.9 339.9 576.1 337.9 573 336.7C569.9 335.5 567.4 335.6 563 335.8C558.6 336 552.2 337 546.7 338C541.2 339 535.6 340.7 530 341.7C524.4 342.7 518.5 343.6 513 344C507.4 344.4 500.1 344.7 496.7 344C493.3 343.3 492.8 341.8 492.5 340C492.2 338.2 492.9 335.5 495 333C497.1 330.5 501.2 328 505 325C508.8 322 515 318.3 518 315C521 311.7 522.4 308.3 523 305C523.6 301.7 523.4 298.7 521.7 295C520 291.3 516.3 286.9 513 283C509.7 279.1 505.5 275.1 501.7 271.7C497.9 268.3 493.6 264.3 490 262.5C486.4 260.7 484.2 261.4 480 260.8C475.8 260.2 470.8 260 465 259C459.2 258 451.7 256.5 445 255C438.3 253.5 431 251.6 425 250C419 248.4 413 246 409 245.5C405 245 403.2 245.8 401 247C398.8 248.2 396.8 250.8 396 253C395.2 255.2 395.7 257.2 396 260C396.3 262.8 396.8 265.8 398 270C399.2 274.2 401.2 280 403 285C404.8 290 407.8 296.5 409 300C410.2 303.5 410.3 304.8 410 306C409.7 307.2 408.2 307.7 407 307.5C405.8 307.3 404.7 306.9 403 305C401.3 303.1 399.5 300.2 397 296C394.5 291.8 391.2 286 388 280C384.8 274 380.7 265.2 378 260C375.3 254.8 373 250.4 372 248.5" fill="none" stroke="#1c1e20" stroke-width="11.65" stroke-dasharray="1.25 1.15"/>
<path d="M331 243C328 243.6 317.9 245 313 246.7C308.1 248.4 304.7 250.3 301.7 253C298.7 255.7 296.3 259.3 295 263C293.7 266.7 293.2 271.1 294 275C294.8 278.9 296.8 283.7 300 286.7C303.2 289.7 309.2 291.2 313 293C316.8 294.8 320.6 295 323 297.5C325.4 300 327.7 304.2 327.5 308C327.3 311.8 324.3 316.3 321.7 320C319.1 323.7 314 326.7 311.7 330C309.4 333.3 307.8 336.7 308 340C308.2 343.3 309.9 347.5 313 350C316.1 352.5 322.2 353.7 326.7 355C331.2 356.3 336.7 356.1 340 358C343.3 359.9 345.9 363.4 346.7 366.7C347.5 370 345.1 374.1 345 378C344.9 381.9 344.1 386.3 345.8 390C347.5 393.7 350.7 397.4 355 400C359.3 402.6 367 404.1 371.7 405.8C376.4 407.5 380.3 408 383 410C385.7 412 387.7 414.7 388 418C388.3 421.3 386.5 426.3 385 430C383.5 433.7 379.9 437.2 379 440C378.1 442.8 378.7 444.7 379.4 447C380.1 449.3 381.5 452 383.3 454C385.1 456 387.5 457.5 390 459C392.5 460.5 395.6 462.2 398.3 462.8C401.1 463.4 403.2 462.9 406.5 462.3C409.8 461.8 414.7 459.6 418.3 459.5C421.9 459.4 426.4 461.6 428 462" fill="none" stroke="#e0e2e2" stroke-width="9.15"/>
<path d="M439 462C438.8 460.6 438.4 457 438 453.3C437.6 449.6 437.4 445.1 436.7 440C436 434.9 434.8 428.6 434 423C433.2 417.4 432.2 411.1 431.7 406.7C431.2 402.3 430.4 399.2 430.8 396.7C431.2 394.2 432.5 392.3 434 391.7C435.5 391.1 437.9 391.1 440 393C442.1 394.9 444.2 399.3 446.7 403C449.2 406.7 452.3 411.1 455 415C457.7 418.9 460.2 423.2 463 426.7C465.8 430.2 469.3 433.1 472 436C474.7 438.9 477.8 442.7 479 444" fill="none" stroke="#e0e2e2" stroke-width="9.15"/>
<path d="M600 382C599 379.7 595.7 372.5 594 368C592.3 363.5 592 359.2 590 355C588 350.8 584.5 346.1 581.7 343C578.9 339.9 576.1 337.9 573 336.7C569.9 335.5 567.4 335.6 563 335.8C558.6 336 552.2 337 546.7 338C541.2 339 535.6 340.7 530 341.7C524.4 342.7 518.5 343.6 513 344C507.4 344.4 500.1 344.7 496.7 344C493.3 343.3 492.8 341.8 492.5 340C492.2 338.2 492.9 335.5 495 333C497.1 330.5 501.2 328 505 325C508.8 322 515 318.3 518 315C521 311.7 522.4 308.3 523 305C523.6 301.7 523.4 298.7 521.7 295C520 291.3 516.3 286.9 513 283C509.7 279.1 505.5 275.1 501.7 271.7C497.9 268.3 493.6 264.3 490 262.5C486.4 260.7 484.2 261.4 480 260.8C475.8 260.2 470.8 260 465 259C459.2 258 451.7 256.5 445 255C438.3 253.5 431 251.6 425 250C419 248.4 413 246 409 245.5C405 245 403.2 245.8 401 247C398.8 248.2 396.8 250.8 396 253C395.2 255.2 395.7 257.2 396 260C396.3 262.8 396.8 265.8 398 270C399.2 274.2 401.2 280 403 285C404.8 290 407.8 296.5 409 300C410.2 303.5 410.3 304.8 410 306C409.7 307.2 408.2 307.7 407 307.5C405.8 307.3 404.7 306.9 403 305C401.3 303.1 399.5 300.2 397 296C394.5 291.8 391.2 286 388 280C384.8 274 380.7 265.2 378 260C375.3 254.8 373 250.4 372 248.5" fill="none" stroke="#e0e2e2" stroke-width="9.15"/>
<path d="M331 243C328 243.6 317.9 245 313 246.7C308.1 248.4 304.7 250.3 301.7 253C298.7 255.7 296.3 259.3 295 263C293.7 266.7 293.2 271.1 294 275C294.8 278.9 296.8 283.7 300 286.7C303.2 289.7 309.2 291.2 313 293C316.8 294.8 320.6 295 323 297.5C325.4 300 327.7 304.2 327.5 308C327.3 311.8 324.3 316.3 321.7 320C319.1 323.7 314 326.7 311.7 330C309.4 333.3 307.8 336.7 308 340C308.2 343.3 309.9 347.5 313 350C316.1 352.5 322.2 353.7 326.7 355C331.2 356.3 336.7 356.1 340 358C343.3 359.9 345.9 363.4 346.7 366.7C347.5 370 345.1 374.1 345 378C344.9 381.9 344.1 386.3 345.8 390C347.5 393.7 350.7 397.4 355 400C359.3 402.6 367 404.1 371.7 405.8C376.4 407.5 380.3 408 383 410C385.7 412 387.7 414.7 388 418C388.3 421.3 386.5 426.3 385 430C383.5 433.7 379.9 437.2 379 440C378.1 442.8 378.7 444.7 379.4 447C380.1 449.3 381.5 452 383.3 454C385.1 456 387.5 457.5 390 459C392.5 460.5 395.6 462.2 398.3 462.8C401.1 463.4 403.2 462.9 406.5 462.3C409.8 461.8 414.7 459.6 418.3 459.5C421.9 459.4 426.4 461.6 428 462" fill="none" stroke="#1c1e20" stroke-width="6.25" stroke-dasharray="1.25 1.15"/>
<path d="M439 462C438.8 460.6 438.4 457 438 453.3C437.6 449.6 437.4 445.1 436.7 440C436 434.9 434.8 428.6 434 423C433.2 417.4 432.2 411.1 431.7 406.7C431.2 402.3 430.4 399.2 430.8 396.7C431.2 394.2 432.5 392.3 434 391.7C435.5 391.1 437.9 391.1 440 393C442.1 394.9 444.2 399.3 446.7 403C449.2 406.7 452.3 411.1 455 415C457.7 418.9 460.2 423.2 463 426.7C465.8 430.2 469.3 433.1 472 436C474.7 438.9 477.8 442.7 479 444" fill="none" stroke="#1c1e20" stroke-width="6.25" stroke-dasharray="1.25 1.15"/>
<path d="M600 382C599 379.7 595.7 372.5 594 368C592.3 363.5 592 359.2 590 355C588 350.8 584.5 346.1 581.7 343C578.9 339.9 576.1 337.9 573 336.7C569.9 335.5 567.4 335.6 563 335.8C558.6 336 552.2 337 546.7 338C541.2 339 535.6 340.7 530 341.7C524.4 342.7 518.5 343.6 513 344C507.4 344.4 500.1 344.7 496.7 344C493.3 343.3 492.8 341.8 492.5 340C492.2 338.2 492.9 335.5 495 333C497.1 330.5 501.2 328 505 325C508.8 322 515 318.3 518 315C521 311.7 522.4 308.3 523 305C523.6 301.7 523.4 298.7 521.7 295C520 291.3 516.3 286.9 513 283C509.7 279.1 505.5 275.1 501.7 271.7C497.9 268.3 493.6 264.3 490 262.5C486.4 260.7 484.2 261.4 480 260.8C475.8 260.2 470.8 260 465 259C459.2 258 451.7 256.5 445 255C438.3 253.5 431 251.6 425 250C419 248.4 413 246 409 245.5C405 245 403.2 245.8 401 247C398.8 248.2 396.8 250.8 396 253C395.2 255.2 395.7 257.2 396 260C396.3 262.8 396.8 265.8 398 270C399.2 274.2 401.2 280 403 285C404.8 290 407.8 296.5 409 300C410.2 303.5 410.3 304.8 410 306C409.7 307.2 408.2 307.7 407 307.5C405.8 307.3 404.7 306.9 403 305C401.3 303.1 399.5 300.2 397 296C394.5 291.8 391.2 286 388 280C384.8 274 380.7 265.2 378 260C375.3 254.8 373 250.4 372 248.5" fill="none" stroke="#1c1e20" stroke-width="6.25" stroke-dasharray="1.25 1.15"/>
<path d="M331 243C328 243.6 317.9 245 313 246.7C308.1 248.4 304.7 250.3 301.7 253C298.7 255.7 296.3 259.3 295 263C293.7 266.7 293.2 271.1 294 275C294.8 278.9 296.8 283.7 300 286.7C303.2 289.7 309.2 291.2 313 293C316.8 294.8 320.6 295 323 297.5C325.4 300 327.7 304.2 327.5 308C327.3 311.8 324.3 316.3 321.7 320C319.1 323.7 314 326.7 311.7 330C309.4 333.3 307.8 336.7 308 340C308.2 343.3 309.9 347.5 313 350C316.1 352.5 322.2 353.7 326.7 355C331.2 356.3 336.7 356.1 340 358C343.3 359.9 345.9 363.4 346.7 366.7C347.5 370 345.1 374.1 345 378C344.9 381.9 344.1 386.3 345.8 390C347.5 393.7 350.7 397.4 355 400C359.3 402.6 367 404.1 371.7 405.8C376.4 407.5 380.3 408 383 410C385.7 412 387.7 414.7 388 418C388.3 421.3 386.5 426.3 385 430C383.5 433.7 379.9 437.2 379 440C378.1 442.8 378.7 444.7 379.4 447C380.1 449.3 381.5 452 383.3 454C385.1 456 387.5 457.5 390 459C392.5 460.5 395.6 462.2 398.3 462.8C401.1 463.4 403.2 462.9 406.5 462.3C409.8 461.8 414.7 459.6 418.3 459.5C421.9 459.4 426.4 461.6 428 462" fill="none" stroke="#e0e2e2" stroke-width="3.75"/>
<path d="M439 462C438.8 460.6 438.4 457 438 453.3C437.6 449.6 437.4 445.1 436.7 440C436 434.9 434.8 428.6 434 423C433.2 417.4 432.2 411.1 431.7 406.7C431.2 402.3 430.4 399.2 430.8 396.7C431.2 394.2 432.5 392.3 434 391.7C435.5 391.1 437.9 391.1 440 393C442.1 394.9 444.2 399.3 446.7 403C449.2 406.7 452.3 411.1 455 415C457.7 418.9 460.2 423.2 463 426.7C465.8 430.2 469.3 433.1 472 436C474.7 438.9 477.8 442.7 479 444" fill="none" stroke="#e0e2e2" stroke-width="3.75"/>
<path d="M600 382C599 379.7 595.7 372.5 594 368C592.3 363.5 592 359.2 590 355C588 350.8 584.5 346.1 581.7 343C578.9 339.9 576.1 337.9 573 336.7C569.9 335.5 567.4 335.6 563 335.8C558.6 336 552.2 337 546.7 338C541.2 339 535.6 340.7 530 341.7C524.4 342.7 518.5 343.6 513 344C507.4 344.4 500.1 344.7 496.7 344C493.3 343.3 492.8 341.8 492.5 340C492.2 338.2 492.9 335.5 495 333C497.1 330.5 501.2 328 505 325C508.8 322 515 318.3 518 315C521 311.7 522.4 308.3 523 305C523.6 301.7 523.4 298.7 521.7 295C520 291.3 516.3 286.9 513 283C509.7 279.1 505.5 275.1 501.7 271.7C497.9 268.3 493.6 264.3 490 262.5C486.4 260.7 484.2 261.4 480 260.8C475.8 260.2 470.8 260 465 259C459.2 258 451.7 256.5 445 255C438.3 253.5 431 251.6 425 250C419 248.4 413 246 409 245.5C405 245 403.2 245.8 401 247C398.8 248.2 396.8 250.8 396 253C395.2 255.2 395.7 257.2 396 260C396.3 262.8 396.8 265.8 398 270C399.2 274.2 401.2 280 403 285C404.8 290 407.8 296.5 409 300C410.2 303.5 410.3 304.8 410 306C409.7 307.2 408.2 307.7 407 307.5C405.8 307.3 404.7 306.9 403 305C401.3 303.1 399.5 300.2 397 296C394.5 291.8 391.2 286 388 280C384.8 274 380.7 265.2 378 260C375.3 254.8 373 250.4 372 248.5" fill="none" stroke="#e0e2e2" stroke-width="3.75"/>
</g>
<path d="M331 243C328 243.6 317.9 245 313 246.7C308.1 248.4 304.7 250.3 301.7 253C298.7 255.7 296.3 259.3 295 263C293.7 266.7 293.2 271.1 294 275C294.8 278.9 296.8 283.7 300 286.7C303.2 289.7 309.2 291.2 313 293C316.8 294.8 320.6 295 323 297.5C325.4 300 327.7 304.2 327.5 308C327.3 311.8 324.3 316.3 321.7 320C319.1 323.7 314 326.7 311.7 330C309.4 333.3 307.8 336.7 308 340C308.2 343.3 309.9 347.5 313 350C316.1 352.5 322.2 353.7 326.7 355C331.2 356.3 336.7 356.1 340 358C343.3 359.9 345.9 363.4 346.7 366.7C347.5 370 345.1 374.1 345 378C344.9 381.9 344.1 386.3 345.8 390C347.5 393.7 350.7 397.4 355 400C359.3 402.6 367 404.1 371.7 405.8C376.4 407.5 380.3 408 383 410C385.7 412 387.7 414.7 388 418C388.3 421.3 386.5 426.3 385 430C383.5 433.7 379.9 437.2 379 440C378.1 442.8 378.7 444.7 379.4 447C380.1 449.3 381.5 452 383.3 454C385.1 456 387.5 457.5 390 459C392.5 460.5 395.6 462.2 398.3 462.8C401.1 463.4 403.2 462.9 406.5 462.3C409.8 461.8 416.3 460 418.3 459.5" fill="none" stroke="#000" stroke-width="1.2"/>
<path d="M438 453.3C437.8 451.1 437.4 445.1 436.7 440C436 434.9 434.8 428.6 434 423C433.2 417.4 432.2 411.1 431.7 406.7C431.2 402.3 430.4 399.2 430.8 396.7C431.2 394.2 432.5 392.3 434 391.7C435.5 391.1 437.9 391.1 440 393C442.1 394.9 444.2 399.3 446.7 403C449.2 406.7 452.3 411.1 455 415C457.7 418.9 460.2 423.2 463 426.7C465.8 430.2 470.5 434.4 472 436" fill="none" stroke="#000" stroke-width="1.2"/>
<path d="M594 368C593.3 365.8 592 359.2 590 355C588 350.8 584.5 346.1 581.7 343C578.9 339.9 576.1 337.9 573 336.7C569.9 335.5 567.4 335.6 563 335.8C558.6 336 552.2 337 546.7 338C541.2 339 535.6 340.7 530 341.7C524.4 342.7 518.5 343.6 513 344C507.4 344.4 500.1 344.7 496.7 344C493.3 343.3 492.8 341.8 492.5 340C492.2 338.2 492.9 335.5 495 333C497.1 330.5 501.2 328 505 325C508.8 322 515 318.3 518 315C521 311.7 522.4 308.3 523 305C523.6 301.7 523.4 298.7 521.7 295C520 291.3 516.3 286.9 513 283C509.7 279.1 505.5 275.1 501.7 271.7C497.9 268.3 493.6 264.3 490 262.5C486.4 260.7 484.2 261.4 480 260.8C475.8 260.2 470.8 260 465 259C459.2 258 451.7 256.5 445 255C438.3 253.5 431 251.6 425 250C419 248.4 413 246 409 245.5C405 245 403.2 245.8 401 247C398.8 248.2 396.8 250.8 396 253C395.2 255.2 395.7 257.2 396 260C396.3 262.8 396.8 265.8 398 270C399.2 274.2 401.2 280 403 285C404.8 290 407.8 296.5 409 300C410.2 303.5 410.3 304.8 410 306C409.7 307.2 408.2 307.7 407 307.5C405.8 307.3 404.7 306.9 403 305C401.3 303.1 399.5 300.2 397 296C394.5 291.8 391.2 286 388 280C384.8 274 380.7 265.2 378 260C375.3 254.8 373 250.4 372 248.5" fill="none" stroke="#000" stroke-width="1.2"/>
<path d="M372 248.5C373 250.4 375.3 254.8 378 260C380.7 265.2 384.8 274 388 280C391.2 286 394.5 291.8 397 296C399.5 300.2 401.3 303.1 403 305C404.7 306.9 405.8 307.3 407 307.5C408.2 307.7 409.7 307.2 410 306C410.3 304.8 410.2 303.5 409 300C407.8 296.5 404.8 290 403 285C401.2 280 399.2 274.2 398 270C396.8 265.8 396.3 262.8 396 260C395.7 257.2 396 254.2 396 253L392 238Z" fill="#f1f1f2"/>
<path d="M372 248.5C373 250.4 375.3 254.8 378 260C380.7 265.2 384.8 274 388 280C391.2 286 394.5 291.8 397 296C399.5 300.2 401.3 303.1 403 305C404.7 306.9 405.8 307.3 407 307.5C408.2 307.7 409.7 307.2 410 306C410.3 304.8 410.2 303.5 409 300C407.8 296.5 404.8 290 403 285C401.2 280 399.2 274.2 398 270C396.8 265.8 396.3 262.8 396 260C395.7 257.2 396 254.2 396 253" fill="none" stroke="#000" stroke-width="1.2"/>
<path d="M438 453.3C437.8 451.1 437.4 445.1 436.7 440C436 434.9 434.8 428.6 434 423C433.2 417.4 432.2 411.1 431.7 406.7C431.2 402.3 430.4 399.2 430.8 396.7C431.2 394.2 432.5 392.3 434 391.7C435.5 391.1 437.9 391.1 440 393C442.1 394.9 444.2 399.3 446.7 403C449.2 406.7 452.3 411.1 455 415C457.7 418.9 460.2 423.2 463 426.7C465.8 430.2 470.5 434.4 472 436Z" fill="#ececed"/>
<path d="M438 453.3C437.8 451.1 437.4 445.1 436.7 440C436 434.9 434.8 428.6 434 423C433.2 417.4 432.2 411.1 431.7 406.7C431.2 402.3 430.4 399.2 430.8 396.7C431.2 394.2 432.5 392.3 434 391.7C435.5 391.1 437.9 391.1 440 393C442.1 394.9 444.2 399.3 446.7 403C449.2 406.7 452.3 411.1 455 415C457.7 418.9 460.2 423.2 463 426.7C465.8 430.2 470.5 434.4 472 436" fill="none" stroke="#000" stroke-width="1.2"/>
<circle cx="344" cy="268" r="16.5" fill="none" stroke="#30343a" stroke-width="1.4" stroke-dasharray="1.5 1.6"/>
<circle cx="365.8" cy="324" r="16.5" fill="none" stroke="#30343a" stroke-width="1.4" stroke-dasharray="1.5 1.6"/>
<circle cx="387.5" cy="373" r="16.3" fill="none" stroke="#30343a" stroke-width="1.4" stroke-dasharray="1.5 1.6"/>
<circle cx="411.8" cy="434.2" r="15.4" fill="none" stroke="#30343a" stroke-width="1.4" stroke-dasharray="1.5 1.6"/>
<path d="M329 236C329.4 237.5 330.4 242.3 331.7 245C333 247.7 334.2 250.5 336.7 252C339.2 253.5 342.8 254.2 346.7 254C350.6 253.8 356.1 252 360 251C363.9 250 366.7 249.2 370 248C373.3 246.8 376.3 245.7 380 244C383.7 242.3 388.3 239.8 392 238C395.7 236.2 399.3 234.7 402 233C404.7 231.3 406.7 230 408 228C409.3 226 410.2 223.2 410 221C409.8 218.8 407.5 216 407 215L393 215C391.7 216.3 387.5 220.7 385 223C382.5 225.3 380 227.7 378 229C376 230.3 376 230.8 373 231C370 231.2 364.4 230.4 360 230.5C355.6 230.6 351.7 230.8 346.7 231.5C341.7 232.2 332.8 234 330 234.5Z" fill="#dfe0e1"/>
<path d="M329 236C329.4 237.5 330.4 242.3 331.7 245C333 247.7 334.2 250.5 336.7 252C339.2 253.5 342.8 254.2 346.7 254C350.6 253.8 356.1 252 360 251C363.9 250 366.7 249.2 370 248C373.3 246.8 376.3 245.7 380 244C383.7 242.3 388.3 239.8 392 238C395.7 236.2 399.3 234.7 402 233C404.7 231.3 406.7 230 408 228C409.3 226 410.2 223.2 410 221C409.8 218.8 407.5 216 407 215" fill="none" stroke="#000" stroke-width="1.2"/>
<path d="M331.5 237C331.9 238.2 332.7 242.3 333.8 244.5C334.9 246.7 335.9 248.8 338 250C340.1 251.2 343 251.8 346.7 251.6C350.4 251.4 356.2 249.8 360 248.8C363.8 247.8 366.3 246.9 369.5 245.8C372.7 244.7 375.4 243.6 379 242C382.6 240.4 387.4 237.8 391 236C394.6 234.2 398 232.8 400.5 231.3C403 229.8 404.6 228.7 405.8 227C407 225.3 407.7 222.8 407.6 221C407.6 219.2 405.9 216.8 405.5 216" fill="none" stroke="#1c1e20" stroke-width="0.9" stroke-dasharray="1.2 1.2" stroke-linecap="butt"/>
<path d="M394.3 210.6L406.3 208.2L407.6 213.4L395.6 216.2Z" fill="#d2d5d5" stroke="#000" stroke-width="1.2"/>
<path d="M396.5 212.3L404.8 210.6L405.3 212.6L397 214.3Z" fill="none" stroke="#1c1e20" stroke-width="0.7" stroke-dasharray="1 1"/>
<path d="M573.5 256C573.7 260.5 573.2 275.7 574.6 283C576 290.3 578.2 295.4 581.8 300C585.4 304.6 591.3 308.3 596 310.3C600.7 312.3 605.5 312.6 610 312C614.5 311.4 619.2 309.8 623 307C626.8 304.2 630.5 298.7 633 295C635.5 291.3 637.2 286.7 638 285C635.2 285.8 626.8 289.4 621 290C615.2 290.6 608.5 289.9 603 288.6C597.5 287.3 592.3 284.9 588 282C583.7 279.1 579.3 275.3 577 271C574.7 266.7 574.5 258.5 574 256Z" fill="#000"/>
<path d="M540.7 177.3C542.5 178.9 548 182.5 551.7 186.8C555.4 191.1 559.7 196.6 562.7 203C565.8 209.4 568.2 218.2 570 225C571.8 231.8 572.9 238.2 573.7 243.7C574.5 249.2 574.1 253.4 574.6 258C575.1 262.6 574.8 267 577 271C579.2 275 583.7 279.1 588 282C592.3 284.9 597.5 287.3 603 288.6C608.5 289.9 615.5 290.4 621 290C626.5 289.6 632.5 288.5 636 286C639.5 283.5 641 279.7 642 275C643 270.3 642.2 263.8 642 258C641.8 252.2 641.6 247.6 640.6 240C639.6 232.4 637.6 220.3 636 212.5C634.4 204.7 631.8 196.2 631 193C628.4 187.8 621.1 177.8 617.7 174C614.3 170.2 612.5 168.9 610 167.8C607.5 166.7 606.7 167.1 603 167.6C599.3 168.1 593.5 169.7 588 170.7C582.5 171.7 576 172.8 570 173.6C564 174.4 556.6 174.9 551.7 175.5C546.8 176.1 542.5 177 540.7 177.3Z" fill="#d2d5d5"/>
<path d="M540.7 177.3C542.5 178.9 548 182.5 551.7 186.8C555.4 191.1 559.7 196.6 562.7 203C565.8 209.4 568.2 218.2 570 225C571.8 231.8 572.9 238.2 573.7 243.7C574.5 249.2 574.1 253.4 574.6 258C575.1 262.6 574.8 267 577 271C579.2 275 583.7 279.1 588 282C592.3 284.9 597.5 287.3 603 288.6C608.5 289.9 615.5 290.4 621 290C626.5 289.6 632.5 288.5 636 286C639.5 283.5 641 279.7 642 275C643 270.3 642.2 263.8 642 258C641.8 252.2 641.6 247.6 640.6 240C639.6 232.4 637.6 220.3 636 212.5C634.4 204.7 631.8 196.2 631 193" fill="none" stroke="#000" stroke-width="1.3"/>
<path d="M562.7 177.7C564.5 181.4 570 191.5 573.7 199.7C577.4 207.9 582.3 219.7 584.7 227C587.1 234.3 587 237.9 588 243.7C589 249.5 589.2 257.4 591 262C592.8 266.6 594.9 269.4 599 271C603.1 272.6 610.8 272.1 615.8 271.5C620.8 270.9 626.1 269.8 628.7 267.5C631.3 265.2 631.2 262.6 631.4 258C631.5 253.4 630.7 247.6 629.6 240C628.5 232.4 627 221.1 625 212.5C623 203.9 620.8 195.1 617.7 188.7C614.7 182.3 609.5 176.9 606.7 174C603.9 171.1 602 171.5 601 171" fill="none" stroke="#1d1f21" stroke-width="1.9" stroke-dasharray="1.3 1.4" stroke-linecap="butt"/>
<path d="M604.8 174C604.2 175.8 601.3 180.2 601 185C600.7 189.8 603.6 197.5 603 203C602.4 208.5 600.2 213.4 597.5 218C594.8 222.6 588.3 228.7 586.5 230.8" fill="none" stroke="#1d1f21" stroke-width="1.9" stroke-dasharray="1.3 1.4" stroke-linecap="butt"/>
<path d="M588 240C589.8 238.6 595.3 233.6 599 231.8C602.7 230 606.3 228.7 610 229C613.7 229.3 617.7 231.8 621 233.6C624.3 235.4 628.2 238.9 629.6 240" fill="none" stroke="#1d1f21" stroke-width="1.9" stroke-dasharray="1.3 1.4" stroke-linecap="butt"/>
<path d="M631.4 193C632.5 197.8 635.9 210.9 637.8 221.7C639.7 232.5 641.3 247.8 643 258C644.7 268.2 646.4 274.7 648 283C649.6 291.3 651.5 300.3 652.5 308C653.5 315.7 653.8 325.5 654 329" fill="none" stroke="#000" stroke-width="1.6"/>
<path d="M642.5 300C642.8 302.8 644.1 310.5 644 316.7C643.9 322.9 642.1 333.6 641.7 337" fill="none" stroke="#000" stroke-width="1.3"/>
<path d="M150 345C159.7 344 195.5 341.1 208 339C220.5 336.9 220 334.6 225 332.5C230 330.4 233.2 328 238 326.7C242.8 325.4 251.3 324.9 254 324.5C250.5 326.8 239.2 334.7 233 338.5C226.8 342.3 222.2 344.5 216.7 347.5C211.2 350.5 205.6 353.6 200 356.7C194.4 359.8 189.7 363.4 183 366C176.3 368.6 163.8 371 160 372Z" fill="#fff"/>
<path d="M250 323C252.5 322.6 260.8 321.2 265 320.6C269.2 320 271.7 320 275 319.6C278.3 319.2 281.7 318.8 285 318C288.3 317.2 291.2 316 295 314.6C298.8 313.2 305.8 310.6 308 309.8C306.7 310.5 303 312.7 300 314.2C297 315.7 293.3 317.5 290 318.8C286.7 320.1 284.2 321 280 322C275.8 323 269.7 324 265 325C260.3 326 254.2 327.5 252 328Z" fill="#000"/>
<path d="M282 386.6C284.2 385.9 290.7 383.8 295 382.4C299.3 381 303.5 379.4 308 378C312.5 376.6 319.7 374.5 322 373.8C319.8 375.1 313.3 379.3 309 381.4C304.7 383.5 300.3 384.8 296 386.3C291.7 387.8 285.2 389.9 283 390.6Z" fill="#000"/>
<path d="M302 452C304.2 450.8 310.3 446.8 315 444.5C319.7 442.2 324.4 440.4 330 438C335.6 435.6 343 432.2 348.7 430C354.4 427.8 361.4 425.8 364 425C361.5 426.1 354.3 429.5 349 431.8C343.7 434.1 337.5 436.6 332 439C326.5 441.4 320.8 443.8 316 446.2C311.2 448.6 305.2 452.3 303 453.5Z" fill="#000"/>
<path d="M275 185C275.6 183.8 276.5 180.1 278.3 177.5C280.1 174.9 282.5 172 285.8 169.2C289.1 166.4 293.4 163.2 298.3 160.8C303.2 158.4 310.2 156.7 315 154.6C319.8 152.5 322.3 150 327 148C331.7 146 337.5 144 343 142.5C348.5 141 354.3 139.8 360 139C365.7 138.2 371.5 138.1 377 138C382.5 137.9 387.5 138.4 393 138.7C398.5 138.9 404.3 139.3 410 139.5C415.7 139.7 421.5 139.6 427 140C432.5 140.4 437.5 140.6 443 141.7C448.5 142.8 454.2 144.2 460 146.5C465.8 148.8 471.9 152.5 478 155.7C484.1 158.9 490.5 163 496.7 165.7C502.9 168.4 508.9 170.3 515 172C521 173.7 526.9 175.2 533 175.8C539.1 176.4 545.5 175.9 551.7 175.5C557.9 175.1 564 174.4 570 173.6C576 172.8 582.5 171.7 588 170.7C593.5 169.7 599.3 168.1 603 167.6C606.7 167.1 607.5 166.7 610 167.8C612.5 168.9 614.3 170.2 617.7 174C621.1 177.8 626.5 185.7 630.5 190.5C634.5 195.3 638.4 197.8 641.5 203C644.6 208.2 646.9 215.5 649 221.7C651.1 227.9 652.3 233.9 654 240C655.7 246.1 657.7 251.9 659 258C660.3 264.1 661 270.5 661.7 276.7C662.5 282.9 663 289.7 663.5 295C664 300.3 664.9 304.1 665 308.3C665.1 312.5 665.4 316.7 664 320C662.6 323.3 660.4 325.2 656.7 328C653 330.8 646.2 333.9 641.7 336.7C637.2 339.5 634.8 341.7 630 345C625.2 348.3 618.5 352.5 613 356.7C607.5 360.9 602.2 365.8 596.7 370C591.2 374.2 585.6 377.9 580 381.7C574.4 385.4 567.7 389.4 563 392.5C558.3 395.6 557.2 396.8 551.7 400C546.2 403.2 536.5 408.1 530 411.7C523.5 415.3 518.5 418.6 513 421.7C507.4 424.8 501.4 428.1 496.7 430C492 431.9 488.7 432.4 485 433.3C481.3 434.2 477.6 434.4 474.3 435.6C471 436.8 468.8 438.8 465 440.7C461.2 442.6 455.9 445.3 451.7 447.3C447.5 449.3 443.3 451.1 440 452.5C436.7 453.9 434.5 454.4 431.7 455.4C428.9 456.4 426.1 457.6 423.3 458.7C420.5 459.8 417.8 460.8 415 462C412.2 463.2 409.5 464.6 406.7 465.8C403.9 467 401.1 468.1 398.3 469.2C395.5 470.3 392.8 471.4 390 472.5C387.2 473.6 384.5 474.7 381.7 475.8C378.9 476.9 376.1 478.1 373.3 479.2C370.5 480.3 367.8 481.5 365 482.5C362.2 483.5 358.1 484.9 356.7 485.4C355.3 486.2 351.1 488.3 348.3 490C345.5 491.7 342.7 494 340 495.8C337.3 497.6 335.2 499.1 332 500.8C328.8 502.5 324.7 504.7 321 506C317.3 507.3 313.5 508.4 310 508.7C306.5 509 303.3 508.8 300 508C296.7 507.2 293.2 505.9 290 503.7C286.8 501.5 283.1 498.1 281 495C278.9 491.9 278 487.9 277.5 485C277 482.1 277.2 480 278 477.5C278.8 475 280.5 472.4 282.5 470C284.5 467.6 286.7 465.5 290 463C293.3 460.5 298.3 457.5 302.5 455C306.7 452.5 310.4 450.3 315 448C319.6 445.7 327.5 442.2 330 441L348.7 430L340 432.5C337.9 433.2 331.7 435.3 327.5 437C323.3 438.7 319.2 440.6 315 442.5C310.8 444.4 306.7 446.4 302.5 448.7C298.3 450.9 294.2 453.5 290 456C285.8 458.5 281.7 461.3 277.5 463.7C273.3 466.1 268.8 468.6 265 470.6C261.2 472.7 257.9 474.6 255 476C252.1 477.4 250 478.4 247.5 478.7C245 478.9 243.5 478.7 240 477.5C236.5 476.3 230.4 474.6 226.7 471.7C223 468.8 220.1 463.9 218 460C215.9 456.1 214.7 451.3 214 448C213.3 444.7 213.1 442.6 213.7 440C214.3 437.4 215.6 434.8 217.5 432.5C219.4 430.2 221.7 428.3 225 426C228.3 423.7 233.3 421.2 237.5 418.7C241.7 416.2 245.8 413.5 250 411C254.2 408.5 258.3 406.2 262.5 403.7C266.7 401.2 271.2 398.6 275 396C278.8 393.4 283.3 389.3 285 388L285 387C283.3 387.3 278.8 387.8 275 388.7C271.2 389.6 266.7 390.8 262.5 392.5C258.3 394.2 254.2 396.6 250 398.7C245.8 400.8 241.7 402.7 237.5 405C233.3 407.3 229.2 410.2 225 412.5C220.8 414.8 216.2 417.5 212.5 418.7C208.8 419.9 205.9 419.9 203 419.5C200.1 419.1 197.7 418.1 195 416.5C192.3 414.9 189.5 413.3 186.7 410C183.9 406.7 180.1 401.2 178 396.7C175.9 392.2 174.4 386.9 174 383C173.6 379.1 174.3 375.8 175.8 373C177.3 370.2 179 368.7 183 366C187 363.3 194.4 359.8 200 356.7C205.6 353.6 211.2 350.5 216.7 347.5C222.2 344.5 226.8 341.9 233 338.5C239.2 335.1 250.5 328.9 254 327L252 323C249.7 323.6 242.5 325.1 238 326.7C233.5 328.3 230 330.4 225 332.5C220 334.6 213.6 337.1 208 339C202.4 340.9 196.4 343.2 191.7 344C187 344.8 183.6 345 180 344C176.4 343 172.7 340.7 170 338C167.3 335.3 165.2 331.8 164 328C162.8 324.2 162.3 319.2 162.5 315C162.7 310.8 163.5 306.7 165 303C166.5 299.3 168.7 296 171.7 293C174.7 290 178.3 287.7 183 285C187.7 282.3 193.8 279.5 200 276.7C206.2 273.9 214.5 270.4 220 268C225.5 265.6 227.5 263.8 233 262.5C238.5 261.2 247.4 261.4 253 260C258.6 258.6 260.9 256.1 266.7 254C272.5 251.9 282.4 248.9 288 247.5C293.6 246.1 295.2 247.1 300 245.8C304.8 244.5 311.7 241.4 316.7 239.5C321.7 237.6 325 235.8 330 234.5C335 233.2 341.7 232.2 346.7 231.5C351.7 230.8 355.6 230.6 360 230.5C364.4 230.4 370 231.2 373 231C376 230.8 376 230.3 378 229C380 227.7 382.5 225.3 385 223C387.5 220.7 391.7 216.3 393 215L393 212.5C391.2 212.3 385.3 212.1 382 211.5C378.7 210.9 375.8 209.9 373 209C370.2 208.1 368 206.3 365 206C362 205.7 359.2 206.8 355 207C350.8 207.2 344.7 207.2 340 207C335.3 206.8 331.2 206.3 327 206C322.8 205.7 319.1 205.6 315 205C310.9 204.4 306.7 203.5 302.5 202.5C298.3 201.5 293.5 200.3 290 199.2C286.5 198.1 283.9 197.1 281.7 195.8C279.5 194.6 277.8 193.5 276.7 191.7C275.6 189.9 275.3 186.1 275 185Z" fill="none" stroke="#000" stroke-width="3.0"/>
<path d="M278.4 190.1L278.6 189.7L279 189.1L279.4 188.4L279.8 187.6L280.3 186.9L280.7 186.2L281.2 185.6L281.7 185.1L282.1 184.7L282.5 184.4L283 184.1L283.5 183.8L284.1 183.6L284.7 183.3L285.4 183.1L286.1 182.9L287 182.6L287.9 182.4L288.9 182.3L290 182.1L291.1 181.9L292.3 181.7L293.4 181.4L294.5 181.1L295.6 180.8L296.6 180.5L297.7 180.1L298.8 179.7L299.8 179.3L300.9 178.8L302 178.3L303.1 177.7L304.2 176.9L305.3 176L306.4 175.1L307.5 174.2L308.6 173.2L309.6 172.3L310.5 171.5L311.4 170.8L312.2 170.3L313 169.7L313.7 169.3L314.3 168.9L315 168.5L315.6 168.2L316.3 167.9L317 167.6L317.8 167.3L318.5 167.1L319.3 166.9L320 166.7L320.8 166.6L321.6 166.4L322.5 166.3L323.3 166.3L324.3 166.2L325.3 166.2L326.3 166.2L327.3 166.2L328.4 166.3L329.5 166.4L330.6 166.5L331.6 166.5L332.7 166.6L333.7 166.8L334.7 166.9L335.7 167.1L336.8 167.2L337.8 167.4L338.9 167.5L339.9 167.6L341 167.7L341.9 167.7L342.9 167.8L343.9 167.9L344.9 167.9L346 167.9L347.1 167.9L348.3 167.9L349.7 167.9L351.3 167.9L353 167.8L354.7 167.7L356.3 167.6L357.8 167.5L359.1 167.4L360 167.4L360 167L359.1 167L357.8 167L356.3 167.1L354.7 167.1L352.9 167.1L351.3 167.1L349.7 167.1L348.3 167.1L347.1 167L346 167L345 166.9L344 166.8L343 166.7L342 166.6L341.1 166.5L340.1 166.4L339 166.3L338 166.1L337 165.9L336 165.7L334.9 165.5L333.9 165.4L332.8 165.2L331.8 165.1L330.7 164.9L329.6 164.8L328.5 164.7L327.4 164.6L326.4 164.6L325.3 164.5L324.2 164.5L323.3 164.5L322.3 164.6L321.4 164.7L320.5 164.8L319.7 164.9L318.8 165.1L318 165.3L317.2 165.5L316.4 165.8L315.6 166.1L314.8 166.4L314.1 166.8L313.4 167.2L312.6 167.6L311.9 168L311.1 168.6L310.2 169.2L309.2 169.9L308.2 170.7L307.2 171.6L306.1 172.5L305 173.5L303.9 174.3L302.9 175.1L301.9 175.7L300.9 176.3L299.9 176.8L299 177.2L298 177.6L296.9 177.9L295.9 178.3L294.9 178.6L293.9 178.9L292.9 179.1L291.8 179.4L290.7 179.5L289.6 179.7L288.5 179.9L287.4 180.1L286.4 180.3L285.5 180.5L284.6 180.8L283.9 181.1L283.2 181.3L282.5 181.6L281.8 182L281.2 182.3L280.6 182.8L279.9 183.3L279.3 184L278.7 184.7L278.2 185.5L277.7 186.4L277.2 187.2L276.8 187.9L276.5 188.4L276.2 188.9Z" fill="#000"/>
<path d="M348 167.7L348.9 167.7L350 167.7L351.4 167.6L352.9 167.6L354.6 167.5L356.4 167.5L358.2 167.4L360 167.4L361.9 167.3L364 167.2L366.1 167.1L368.3 167L370.5 166.8L372.7 166.7L374.9 166.7L377 166.6L379.1 166.6L381.1 166.6L383 166.6L385 166.6L387 166.6L388.9 166.7L390.9 166.7L393 166.8L395 166.9L397.1 167L399.3 167.1L401.4 167.3L403.5 167.4L405.7 167.6L407.8 167.8L409.9 167.9L412 168.2L414.2 168.4L416.3 168.6L418.4 168.8L420.6 169.1L422.7 169.4L424.8 169.7L426.8 170L429 170.4L431.2 170.9L433.5 171.4L435.8 172L438 172.5L439.9 172.9L441.5 173.3L442.7 173.6L443.3 171.4L442 171.1L440.4 170.7L438.5 170.3L436.3 169.8L434 169.3L431.7 168.8L429.4 168.3L427.2 168L425.1 167.6L423 167.3L420.8 167.1L418.7 166.8L416.5 166.6L414.4 166.4L412.2 166.2L410.1 166.1L407.9 165.9L405.8 165.7L403.6 165.6L401.5 165.5L399.3 165.4L397.2 165.3L395.1 165.3L393 165.2L391 165.2L389 165.2L387 165.2L385 165.2L383 165.2L381 165.2L379 165.3L377 165.4L374.9 165.5L372.7 165.6L370.4 165.8L368.2 166L366 166.2L363.9 166.3L361.9 166.5L360 166.6L358.2 166.7L356.4 166.8L354.6 166.9L352.9 167L351.4 167.1L350 167.2L348.9 167.3L348 167.3Z" fill="#000"/>
<path d="M442.6 173.6L443.9 174.1L445.7 174.7L447.7 175.4L450 176.2L452.4 177.1L454.8 178L457.2 178.9L459.5 179.8L461.7 180.7L463.9 181.6L466.1 182.5L468.3 183.4L470.6 184.4L472.8 185.5L475 186.7L477.2 188L479.5 189.5L481.7 191.2L484 193L486.4 194.8L488.7 196.8L491 198.8L493.3 200.8L495.6 202.7L497.9 204.7L500.2 206.8L502.4 209L504.7 211.1L507 213.3L509.3 215.4L511.6 217.4L513.9 219.4L516.1 221.2L518.4 223L520.6 224.8L522.9 226.5L525.2 228.1L527.4 229.6L529.8 231.1L532.1 232.4L534.4 233.7L536.8 234.8L539.1 235.8L541.5 236.8L543.8 237.6L546.2 238.4L548.7 239.2L551.2 239.9L554 240.5L557 241.1L560.1 241.7L563.2 242.2L566.2 242.6L568.8 242.9L571.1 243.2L572.7 243.5L573.3 239.5L571.6 239.3L569.4 239L566.7 238.6L563.8 238.2L560.7 237.8L557.7 237.3L554.8 236.7L552.2 236.1L549.8 235.5L547.4 234.8L545.1 234L542.8 233.2L540.6 232.3L538.4 231.4L536.1 230.3L533.9 229.2L531.7 227.9L529.5 226.5L527.3 225.1L525.1 223.5L522.8 221.9L520.6 220.2L518.4 218.4L516.1 216.6L513.9 214.8L511.6 212.8L509.4 210.7L507.1 208.6L504.8 206.5L502.4 204.3L500.1 202.3L497.8 200.3L495.4 198.3L493.1 196.3L490.7 194.4L488.3 192.4L485.9 190.5L483.5 188.8L481.2 187.1L478.8 185.6L476.4 184.2L474.1 183L471.7 181.9L469.4 180.9L467.2 180L464.9 179.1L462.7 178.2L460.5 177.4L458.2 176.5L455.7 175.6L453.2 174.7L450.8 173.9L448.5 173.1L446.4 172.4L444.7 171.9L443.4 171.4Z" fill="#000"/>
<path d="M285 195.4L307 189.2L346.2 200L343.7 203.3L311.7 202Z" fill="#ebeced" stroke="#000" stroke-width="1.1"/>
<path d="M314.2 199L344.4 201.2L343.7 203.3L311.7 202Z" fill="#fff" stroke="#000" stroke-width="1.0"/>
<path d="M391.9 187.4L391.3 188.1L390.6 188.9L389.8 190L388.9 191.1L387.9 192.3L386.8 193.5L385.7 194.6L384.7 195.6L383.5 196.6L382.3 197.5L381.1 198.4L379.8 199.3L378.5 200.1L377.2 200.9L375.9 201.6L374.6 202.2L373.3 202.7L372 203.2L370.5 203.6L369.1 203.9L367.8 204.2L366.5 204.4L365.5 204.7L364.7 204.8L365.3 207.2L366.1 206.9L367.1 206.7L368.3 206.3L369.6 206L371.1 205.5L372.6 205L374 204.4L375.4 203.8L376.7 203.1L378 202.2L379.3 201.3L380.6 200.4L381.9 199.4L383.1 198.4L384.2 197.4L385.3 196.4L386.4 195.3L387.4 194L388.4 192.8L389.4 191.5L390.2 190.3L391 189.2L391.6 188.3L392.1 187.6Z" fill="#000"/>
<path d="M406.9 173L406.9 173.6L407 174.5L407.1 175.4L407.1 176.5L407.2 177.6L407.3 178.8L407.3 179.9L407.3 181L407.2 182.1L407.2 183.1L407.2 184.1L407.1 185.1L407 186.2L406.8 187.3L406.5 188.4L406.1 189.7L405.5 191.1L404.7 192.9L403.8 194.8L402.9 196.7L401.9 198.6L401.1 200.4L400.4 201.8L399.9 202.9L400.1 203.1L400.8 202.1L401.7 200.8L402.8 199.2L404 197.4L405.2 195.5L406.3 193.7L407.2 191.9L407.9 190.3L408.3 188.9L408.6 187.6L408.8 186.4L408.9 185.2L408.9 184.1L408.9 183.1L408.8 182L408.7 181L408.6 179.9L408.4 178.7L408.2 177.5L408 176.4L407.7 175.3L407.5 174.4L407.3 173.6L407.1 173Z" fill="#000"/>
<path d="M447.9 182.4L447.1 182.7L446.1 183.2L444.8 183.7L443.4 184.3L441.9 184.9L440.4 185.7L438.9 186.5L437.5 187.3L436.2 188.2L434.9 189.1L433.7 190L432.4 191L431.1 192.2L429.8 193.4L428.5 194.8L427.2 196.3L425.8 198.1L424.3 200.3L422.8 202.7L421.3 205.2L419.9 207.6L418.7 209.7L417.6 211.6L416.9 212.9L417.1 213.1L418.1 211.9L419.3 210.2L420.8 208.2L422.5 206L424.2 203.7L425.8 201.4L427.4 199.4L428.8 197.7L430.1 196.3L431.4 194.9L432.6 193.7L433.8 192.6L434.9 191.6L436.1 190.6L437.3 189.6L438.5 188.7L439.7 187.7L441.1 186.8L442.5 185.9L443.8 185.1L445.1 184.3L446.3 183.7L447.3 183.1L448.1 182.6Z" fill="#000"/>
<path d="M414.9 202.9L414.6 203.1L414.2 203.4L413.6 203.7L413.1 204.1L412.5 204.5L411.9 204.9L411.3 205.3L410.7 205.6L410.2 206L409.6 206.4L409 206.8L408.4 207.2L407.8 207.5L407.3 207.9L406.8 208.1L406.5 208.4L407.5 209.6L407.8 209.4L408.2 209.1L408.6 208.7L409.1 208.2L409.7 207.7L410.2 207.3L410.8 206.8L411.3 206.4L411.8 206L412.3 205.5L412.9 205L413.4 204.5L413.9 204.1L414.4 203.7L414.8 203.4L415.1 203.1Z" fill="#000"/>
<path d="M419.9 204.9L419.5 205.3L419 205.8L418.4 206.4L417.7 207.1L417 207.8L416.3 208.4L415.5 209.1L414.7 209.6L413.9 210.2L412.9 210.7L411.9 211.2L410.9 211.7L409.9 212.2L409 212.7L408.2 213L407.6 213.3L408.4 214.7L408.9 214.4L409.6 214L410.5 213.5L411.5 212.9L412.5 212.3L413.5 211.6L414.4 211L415.3 210.4L416 209.7L416.8 209L417.5 208.2L418.1 207.4L418.8 206.7L419.3 206.1L419.8 205.5L420.1 205.1Z" fill="#000"/>
<path d="M178.3 303.9L178 304.6L177.7 305.4L177.3 306.5L176.8 307.6L176.4 308.9L176 310.2L175.6 311.5L175.3 312.8L175.2 314L175 315.2L174.9 316.4L174.8 317.7L174.8 319L174.9 320.3L175 321.7L175.1 323.1L175.4 324.6L175.8 326.3L176.3 328.2L176.8 330L177.3 331.7L177.8 333.3L178.2 334.6L178.5 335.5L178.7 335.5L178.5 334.5L178.3 333.1L177.9 331.5L177.5 329.8L177.2 328L176.9 326.1L176.6 324.4L176.5 322.9L176.4 321.6L176.4 320.3L176.5 319L176.6 317.8L176.8 316.6L177 315.5L177.2 314.3L177.5 313.2L177.8 312.1L178.2 311L178.7 309.8L179.2 308.6L179.7 307.5L180.2 306.5L180.6 305.7L180.9 305.1Z" fill="#000"/>
<path d="M243.5 273.3L244.1 274.4L244.9 275.8L245.9 277.5L247 279.3L248.1 281.2L249.1 283.2L250 285.2L250.8 287L251.3 288.9L251.8 291.1L252.3 293.4L252.7 295.8L253 298L253.3 300L253.6 301.7L253.9 303L254.1 303L254.1 301.7L254.1 300L254 297.9L254 295.6L253.8 293.2L253.6 290.8L253.2 288.5L252.6 286.4L251.9 284.4L250.8 282.3L249.7 280.3L248.5 278.4L247.2 276.6L246.1 275L245.2 273.7L244.5 272.7Z" fill="#000"/>
<path d="M204.4 306.7L243.5 295.4L243.2 299.4L216 311.3L214.8 320.5L220.9 321.4L220.9 324.4L200.7 332.7Z" fill="#ebeced" stroke="#000" stroke-width="1.4" stroke-linejoin="miter"/>
<path d="M252.4 312.9L252.2 313.2L251.9 313.6L251.6 314.1L251.2 314.6L250.9 315.2L250.5 315.7L250 316.2L249.6 316.7L249.2 317.1L248.6 317.5L248 318L247.4 318.4L246.8 318.9L246.2 319.2L245.8 319.6L245.4 319.8L246.6 321.2L246.9 320.9L247.3 320.5L247.8 320.1L248.3 319.6L248.9 319L249.4 318.4L249.9 317.9L250.4 317.3L250.8 316.8L251.1 316.2L251.5 315.5L251.8 314.9L252 314.4L252.3 313.8L252.5 313.4L252.6 313.1Z" fill="#000"/>
<path d="M219.3 268.4L219.6 268.8L220 269.4L220.5 270.2L221.1 271L221.6 271.8L222.1 272.5L222.6 273.1L222.9 273.6L223.1 273.4L222.9 272.9L222.6 272.2L222.3 271.4L221.9 270.5L221.5 269.6L221.2 268.8L220.9 268.1L220.7 267.6Z" fill="#000"/>
<path d="M251.3 260.4L251.6 260.8L252 261.3L252.5 261.9L253 262.5L253.5 263.1L254 263.7L254.4 264.2L254.7 264.6L254.9 264.4L254.7 264L254.5 263.4L254.2 262.7L253.8 262L253.5 261.3L253.1 260.6L252.9 260L252.7 259.6Z" fill="#000"/>
<path d="M182.8 375.2L183 375.9L183.1 377L183.3 378.2L183.6 379.5L183.9 381L184.2 382.5L184.6 383.9L185 385.2L185.4 386.5L185.9 387.8L186.4 389.1L187 390.4L187.6 391.7L188.2 392.9L188.9 394.1L189.5 395.3L190.3 396.4L191.1 397.6L192 398.7L192.9 399.8L193.7 400.9L194.5 401.8L195.2 402.5L195.6 403.1L196 402.9L195.5 402.3L194.9 401.5L194.2 400.5L193.4 399.4L192.6 398.3L191.8 397.1L191.1 395.9L190.5 394.7L189.9 393.6L189.3 392.4L188.8 391.1L188.3 389.9L187.8 388.6L187.4 387.3L187 386L186.6 384.8L186.3 383.5L186.1 382.1L185.9 380.6L185.7 379.2L185.5 377.9L185.4 376.6L185.3 375.6L185.2 374.8Z" fill="#000"/>
<path d="M207.3 373.7L251.3 360.7L251 365.7L220 379L218.7 389L226 390L226 393.3L203.3 403Z" fill="#ebeced" stroke="#000" stroke-width="1.4" stroke-linejoin="miter"/>
<path d="M257.2 339.5L257.5 340L257.9 340.7L258.4 341.5L259 342.4L259.6 343.4L260.3 344.4L260.9 345.4L261.5 346.3L262.2 347.2L262.9 348.2L263.6 349.2L264.3 350.1L265 351L265.7 351.9L266.2 352.6L266.6 353.1L266.8 352.9L266.5 352.4L266 351.6L265.5 350.7L264.9 349.8L264.2 348.7L263.6 347.7L263 346.6L262.5 345.7L262 344.8L261.4 343.8L260.9 342.7L260.4 341.7L259.9 340.7L259.5 339.8L259.1 339.1L258.8 338.5Z" fill="#000"/>
<path d="M270.7 367.5L270.9 368.4L271.3 369.5L271.7 370.8L272.2 372.3L272.6 373.8L272.9 375.3L273.2 376.8L273.3 378L273.2 379.2L272.9 380.5L272.5 381.8L272.1 383.1L271.6 384.3L271.1 385.4L270.8 386.4L270.5 387.1L272.9 387.9L273.1 387.1L273.3 386.2L273.7 385L274 383.7L274.4 382.3L274.6 380.8L274.8 379.4L274.7 378L274.5 376.6L274.1 375.1L273.5 373.5L272.9 372L272.3 370.6L271.7 369.3L271.3 368.2L270.9 367.5Z" fill="#000"/>
<path d="M212.5 358.9L212.8 359.2L213.4 359.7L214 360.2L214.7 360.8L215.4 361.3L216 361.9L216.5 362.3L216.9 362.6L217.1 362.4L216.8 362L216.4 361.5L215.9 360.8L215.3 360.1L214.8 359.4L214.3 358.8L213.8 358.3L213.5 357.9Z" fill="#000"/>
<path d="M231.2 393L231.2 393.5L231.2 394.3L231.3 395.1L231.4 396.1L231.4 397L231.5 397.9L231.5 398.6L231.6 399.1L233 398.9L232.9 398.4L232.7 397.7L232.5 396.8L232.2 395.9L232 395L231.8 394.2L231.6 393.5L231.4 393Z" fill="#000"/>
<path d="M222.7 448.1L223.1 448.9L223.5 450L224 451.3L224.6 452.7L225.2 454.2L225.9 455.7L226.7 457.1L227.5 458.4L228.5 459.5L229.4 460.5L230.5 461.5L231.6 462.5L232.7 463.4L233.9 464.3L235.1 465L236.3 465.8L237.6 466.4L239 467L240.5 467.5L242 467.9L243.4 468.3L244.6 468.6L245.7 468.8L246.4 469.1L247 466.9L246.2 466.7L245.1 466.5L243.9 466.3L242.5 466L241.1 465.6L239.6 465.2L238.3 464.8L237.1 464.2L235.9 463.6L234.8 462.9L233.6 462.2L232.5 461.4L231.4 460.5L230.3 459.6L229.3 458.6L228.5 457.6L227.6 456.5L226.8 455.2L226 453.8L225.3 452.4L224.7 451L224.1 449.7L223.7 448.7L223.3 447.9Z" fill="#000"/>
<path d="M251.3 417.5L251.7 417.6L252.1 417.8L252.6 418L253.2 418.3L253.8 418.5L254.5 418.8L255.1 419.1L255.7 419.5L256.3 419.8L257 420.2L257.8 420.7L258.5 421.2L259.2 421.6L259.8 422L260.3 422.4L260.7 422.6L260.9 422.4L260.5 422.1L260.1 421.7L259.5 421.2L258.9 420.6L258.2 420.1L257.5 419.5L256.9 419L256.3 418.5L255.7 418.1L255.1 417.7L254.5 417.4L253.9 417L253.3 416.7L252.8 416.4L252.4 416.1L252.1 415.9Z" fill="#000"/>
<path d="M281.2 401.6L282 402.1L283.2 402.8L284.6 403.7L286.1 404.7L287.6 405.6L289.1 406.6L290.4 407.5L291.4 408.3L292.2 409L292.8 409.7L293.3 410.4L293.8 411.1L294.1 411.7L294.4 412.2L294.6 412.7L294.9 413.1L295.1 412.9L294.9 412.6L294.7 412.1L294.5 411.5L294.2 410.8L293.8 410.1L293.3 409.3L292.7 408.5L292 407.7L291 406.8L289.8 405.8L288.4 404.6L286.9 403.5L285.4 402.4L284.1 401.4L283 400.6L282.2 400Z" fill="#000"/>
<path d="M302.9 420.1L303.2 420.9L303.7 422L304.2 423.3L304.8 424.7L305.4 426.2L306 427.6L306.4 429L306.7 430.2L306.9 431.3L307 432.4L307 433.5L307 434.6L306.9 435.7L306.8 436.6L306.8 437.4L306.8 438L309.2 438L309.2 437.4L309.2 436.6L309.1 435.7L309.1 434.6L309 433.4L308.8 432.2L308.6 431L308.3 429.8L307.8 428.5L307.1 427.2L306.4 425.7L305.6 424.3L304.8 422.9L304.1 421.7L303.6 420.7L303.1 419.9Z" fill="#000"/>
<path d="M272.9 447.5L272.8 448.1L272.8 449L272.8 450.1L272.8 451.3L272.8 452.4L272.8 453.5L272.8 454.4L272.8 455L274.2 455L274.2 454.3L274 453.4L273.9 452.4L273.7 451.2L273.5 450.1L273.4 449L273.2 448.1L273.1 447.5Z" fill="#000"/>
<path d="M287.8 493.9L288.1 494.2L288.5 494.7L289 495.3L289.5 495.9L290.1 496.6L290.6 497.2L291.1 497.9L291.6 498.4L292 498.9L292.4 499.4L292.9 499.8L293.3 500.3L293.6 500.7L294 501L294.2 501.3L294.4 501.6L295.6 500.4L295.3 500.2L295 499.9L294.7 499.6L294.2 499.3L293.8 498.9L293.3 498.5L292.9 498L292.4 497.6L291.9 497.1L291.3 496.6L290.7 496L290.1 495.4L289.5 494.8L289 494.3L288.5 493.9L288.2 493.5Z" fill="#000"/>
<path d="M328 485L330 499" fill="none" stroke="#000" stroke-width="1.2"/>
<path d="M337.7 444.3L338.5 445L339.5 445.9L340.8 447L342.1 448.2L343.5 449.5L344.9 450.8L346.1 452.2L347.1 453.6L348.1 455.2L349 457.1L350 459.2L350.9 461.3L351.8 463.4L352.6 465.3L353.3 466.9L353.9 468.1L354.1 467.9L353.8 466.7L353.4 465L352.9 463L352.3 460.8L351.6 458.5L350.8 456.3L349.9 454.2L348.9 452.4L347.6 450.9L346.2 449.4L344.7 448.1L343.1 447L341.6 445.9L340.2 445L339.1 444.3L338.3 443.7Z" fill="#000"/>
<path d="M307.6 461.8L308.4 462.1L309.5 462.5L310.8 462.9L312.1 463.5L313.5 464L314.8 464.5L315.9 464.9L316.6 465.1L316.8 464.9L316.1 464.5L315.1 463.9L313.9 463.3L312.6 462.5L311.3 461.8L310.1 461.2L309.1 460.6L308.4 460.2Z" fill="#000"/>
</g>
<path d="M356 230C356.4 232.3 357 238.7 358.5 244C360 249.3 363.2 256 365 262C366.8 268 367.7 274.5 369 280C370.3 285.5 370.1 287 373 295C375.9 303 383.4 320.2 386.7 328C389.9 335.8 389.9 335.5 392.5 342C395.1 348.5 397.4 356.2 402 367C406.6 377.8 414.8 395.7 420 406.7C425.2 417.7 428.8 426.6 433 433C437.2 439.4 443 443 445 445" fill="none" stroke="#f4ab6b" stroke-width="2" stroke-dasharray="0.9 0.9"/>
<path d="M355 257.5L370 262L356.5 267Z" fill="none" stroke="#f6c193" stroke-width="0.75"/>
<path d="M375 299L390 311L373 319Z" fill="none" stroke="#f6c193" stroke-width="0.75"/>
<path d="M398 360L415 370L399 376Z" fill="none" stroke="#f6c193" stroke-width="0.75"/>
<path d="M436.7 425L448 431.7L438 438Z" fill="none" stroke="#f6c193" stroke-width="0.75"/>
<path d="M356 230C356 228.7 355.9 224.2 356.2 222C356.4 219.8 356.8 217.8 357.5 216.5C358.2 215.2 359.3 214.2 360.5 214C361.7 213.8 363.1 214.1 364.5 215C365.9 215.9 367.2 217.4 369 219.5C370.8 221.6 372.8 224.4 375 227.5C377.2 230.6 379.8 234.8 382 238C384.2 241.2 387 245.5 388 247" fill="none" stroke="#f0801f" stroke-width="1.6" stroke-linecap="round"/>
<path d="M390 249L420 309" fill="none" stroke="#f0801f" stroke-width="3.2"/>
<path d="M420 309L446 368" fill="none" stroke="#f0801f" stroke-width="2.6"/>
<path d="M446 368L463 428" fill="none" stroke="#f0801f" stroke-width="2.2"/>
<path d="M463 428C463.6 430 465.6 436.3 466.5 440C467.4 443.7 468.1 447 468.3 450C468.5 453 468.3 455.8 467.5 458C466.7 460.2 465.1 462.5 463.5 463C461.9 463.5 460 462.6 458 461C456 459.4 453.7 456.3 451.5 453.5C449.3 450.7 446.1 445.6 445 444" fill="none" stroke="#f0801f" stroke-width="1.5" stroke-linecap="round"/>
<path d="M376.5 244L392 236L392 252Z" fill="#f0801f"/>
<path d="M409 302L425 295.5L422.5 312Z" fill="#f0801f"/>
<path d="M433 365L451.7 359L449 376Z" fill="#f0801f"/>
<path d="M452.5 420.8L471.7 416.7L464 432.5Z" fill="#f0801f"/>
</svg>

<div class="t h" id="title">Men&#8217;s Glove Size Chart In Inches</div>

<div id="tbl">
  <div class="cell" id="hd"><span>Hand Circumference (inches)</span></div>
  <div class="cell c1 g s" style="top:45px;height:65px"><span>XS</span></div><div class="cell c2 g s" style="top:45px;height:65px"><span>6 - 7</span></div>
  <div class="cell c1 w m" style="top:109px;height:65px"><span>SM</span></div><div class="cell c2 w m" style="top:109px;height:65px"><span>7 - 8</span></div>
  <div class="cell c1 g s" style="top:173px;height:65px"><span>MD</span></div><div class="cell c2 g s" style="top:173px;height:65px"><span>8 - 9</span></div>
  <div class="cell c1 w m" style="top:237px;height:65px"><span>LG</span></div><div class="cell c2 w m" style="top:237px;height:65px"><span>9 - 10</span></div>
  <div class="cell c1 g" style="top:301px;height:65px"><span>XL</span></div><div class="cell c2 g" style="top:301px;height:65px"><span>10 - 11</span></div>
  <div class="cell c1 w" style="top:365px;height:65px"><span>2XL</span></div><div class="cell c2 w" style="top:365px;height:65px"><span>11 - 12</span></div>
  <div class="cell c1 g" style="top:429px;height:65px"><span>3XL</span></div><div class="cell c2 g" style="top:429px;height:65px"><span>12 - 13</span></div>
</div>

<div class="t h" id="how">How To Measure For Fitment</div>
<div class="t" id="hc">Hand Circumference</div>
<div class="t" id="m1">Measure around the fullest part of the hand not including the</div>
<div class="t" id="m2">thumb.</div>

<div class="t" id="f1">Sizing information is provided by the manufacturer and does not guarantee a perfect fit.</div>
<div class="t" id="f2">Please use this chart as a guide only</div>
</body>
</html>
